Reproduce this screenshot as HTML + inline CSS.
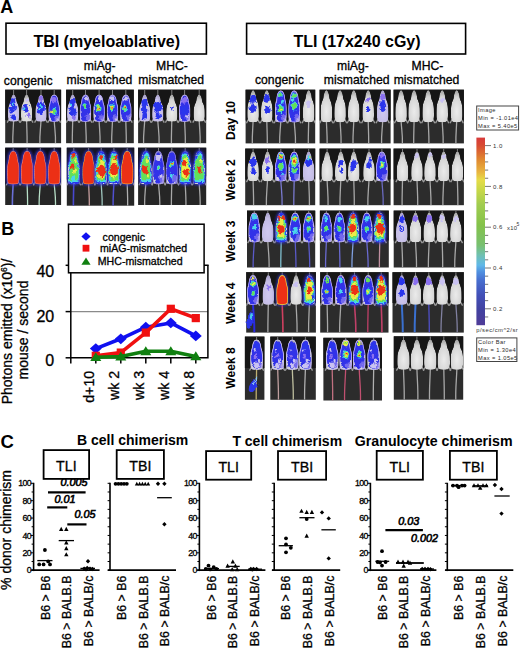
<!DOCTYPE html><html><head><meta charset="utf-8"><style>html,body{margin:0;padding:0;background:#fff;width:520px;height:649px;overflow:hidden}svg{display:block}text{font-family:"Liberation Sans",sans-serif}</style></head><body>
<svg width="520" height="649" viewBox="0 0 520 649">
<defs><filter id="bl1" x="-30%" y="-30%" width="160%" height="160%"><feGaussianBlur stdDeviation="0.7"/></filter><filter id="bl2" x="-50%" y="-50%" width="200%" height="200%"><feGaussianBlur stdDeviation="1.6"/></filter><radialGradient id="wg" cx="0.5" cy="0.66" r="0.62"><stop offset="0" stop-color="#ebebeb"/><stop offset="0.75" stop-color="#d5d5d5"/><stop offset="1" stop-color="#aaaaaa"/></radialGradient><filter id="ds0" x="-30%" y="-30%" width="160%" height="160%"><feTurbulence type="fractalNoise" baseFrequency="0.28" numOctaves="2" seed="3" result="n"/><feDisplacementMap in="SourceGraphic" in2="n" scale="4.5" xChannelSelector="R" yChannelSelector="G" result="d"/><feGaussianBlur in="d" stdDeviation="0.55"/></filter><filter id="ds1" x="-30%" y="-30%" width="160%" height="160%"><feTurbulence type="fractalNoise" baseFrequency="0.28" numOctaves="2" seed="10" result="n"/><feDisplacementMap in="SourceGraphic" in2="n" scale="4.5" xChannelSelector="R" yChannelSelector="G" result="d"/><feGaussianBlur in="d" stdDeviation="0.55"/></filter><filter id="ds2" x="-30%" y="-30%" width="160%" height="160%"><feTurbulence type="fractalNoise" baseFrequency="0.28" numOctaves="2" seed="17" result="n"/><feDisplacementMap in="SourceGraphic" in2="n" scale="4.5" xChannelSelector="R" yChannelSelector="G" result="d"/><feGaussianBlur in="d" stdDeviation="0.55"/></filter><filter id="ds3" x="-30%" y="-30%" width="160%" height="160%"><feTurbulence type="fractalNoise" baseFrequency="0.28" numOctaves="2" seed="24" result="n"/><feDisplacementMap in="SourceGraphic" in2="n" scale="4.5" xChannelSelector="R" yChannelSelector="G" result="d"/><feGaussianBlur in="d" stdDeviation="0.55"/></filter><linearGradient id="cbar" x1="0" y1="1" x2="0" y2="0"><stop offset="0" stop-color="#503c98"/><stop offset="0.081" stop-color="#4242a0"/><stop offset="0.161" stop-color="#4250b8"/><stop offset="0.241" stop-color="#4870d0"/><stop offset="0.284" stop-color="#5090e0"/><stop offset="0.32" stop-color="#60b8e8"/><stop offset="0.374" stop-color="#70c0b0"/><stop offset="0.427" stop-color="#78c070"/><stop offset="0.534" stop-color="#84c24a"/><stop offset="0.64" stop-color="#a0cc50"/><stop offset="0.72" stop-color="#c8d848"/><stop offset="0.774" stop-color="#e6dc48"/><stop offset="0.817" stop-color="#e8b440"/><stop offset="0.88" stop-color="#e08a30"/><stop offset="0.96" stop-color="#d84a32"/><stop offset="1" stop-color="#d83a3a"/></linearGradient></defs>
<rect width="520" height="649" fill="#fff"/>
<text x="0.2" y="12.7" font-size="18" font-weight="bold" fill="#000">A</text>
<rect x="6" y="23.2" width="200.4" height="30.8" fill="none" stroke="#000" stroke-width="1.6"/>
<text x="33.4" y="46.7" font-size="16" font-weight="bold" fill="#000">TBI (myeloablative)</text>
<rect x="246.6" y="23.4" width="219" height="30.6" fill="none" stroke="#000" stroke-width="1.6"/>
<text x="293.4" y="46.7" font-size="16" font-weight="bold" fill="#000">TLI (17x240 cGy)</text>
<text x="3.8" y="84.6" font-size="12.2" stroke="#000" stroke-width="0.3" fill="#000">congenic</text>
<text x="83.8" y="70.4" font-size="12.2" stroke="#000" stroke-width="0.3" fill="#000">miAg-</text>
<text x="66.5" y="84.2" font-size="12.2" stroke="#000" stroke-width="0.3" fill="#000">mismatched</text>
<text x="156" y="69.8" font-size="12.2" stroke="#000" stroke-width="0.3" fill="#000">MHC-</text>
<text x="138.3" y="83.6" font-size="12.2" stroke="#000" stroke-width="0.3" fill="#000">mismatched</text>
<text x="255" y="84.2" font-size="12.2" stroke="#000" stroke-width="0.3" fill="#000">congenic</text>
<text x="337" y="70.4" font-size="12.2" stroke="#000" stroke-width="0.3" fill="#000">miAg-</text>
<text x="323.8" y="84.2" font-size="12.2" stroke="#000" stroke-width="0.3" fill="#000">mismatched</text>
<text x="411.5" y="70.4" font-size="12.2" stroke="#000" stroke-width="0.3" fill="#000">MHC-</text>
<text x="393.7" y="84.2" font-size="12.2" stroke="#000" stroke-width="0.3" fill="#000">mismatched</text>
<text x="234.9" y="120.4" font-size="12.1" font-weight="bold" text-anchor="middle" fill="#000" transform="rotate(-90 234.9 120.4)">Day 10</text>
<text x="234.9" y="179.9" font-size="12.1" font-weight="bold" text-anchor="middle" fill="#000" transform="rotate(-90 234.9 179.9)">Week 2</text>
<text x="234.9" y="241.3" font-size="12.1" font-weight="bold" text-anchor="middle" fill="#000" transform="rotate(-90 234.9 241.3)">Week 3</text>
<text x="234.9" y="303.2" font-size="12.1" font-weight="bold" text-anchor="middle" fill="#000" transform="rotate(-90 234.9 303.2)">Week 4</text>
<text x="234.9" y="368" font-size="12.1" font-weight="bold" text-anchor="middle" fill="#000" transform="rotate(-90 234.9 368)">Week 8</text>
<rect x="5.2" y="89.7" width="55.9" height="53.5" fill="#2c2c2c"/>
<rect x="5.2" y="89.7" width="55.9" height="30.3" fill="#171717" filter="url(#bl1)"/>
<svg x="5.2" y="89.7" width="55.9" height="53.5" viewBox="5.2 89.7 55.9 53.5" overflow="hidden">
<defs><path id="bk1" d="M1.01 95C1.49 95.27 1.64 96.02 1.9 96.59C2.17 97.16 2.42 97.83 2.58 98.44C2.73 99.06 2.73 99.68 2.86 100.3C2.98 100.92 3.06 101.49 3.3 102.16C3.55 102.82 4.01 103.48 4.31 104.28C4.61 105.07 4.9 106 5.1 106.92C5.29 107.85 5.4 108.38 5.49 109.84C5.57 111.3 5.62 114.26 5.6 115.67C5.58 117.08 5.52 117.57 5.38 118.32C5.24 119.07 5.14 119.64 4.76 120.17C4.38 120.7 4.39 121.28 3.08 121.5C1.77 121.72 -1.77 121.72 -3.08 121.5C-4.39 121.28 -4.38 120.7 -4.76 120.17C-5.14 119.64 -5.24 119.07 -5.38 118.32C-5.52 117.57 -5.58 117.08 -5.6 115.67C-5.62 114.26 -5.57 111.3 -5.49 109.84C-5.4 108.38 -5.29 107.85 -5.1 106.92C-4.9 106 -4.61 105.07 -4.31 104.28C-4.01 103.48 -3.55 102.82 -3.3 102.16C-3.06 101.49 -2.98 100.92 -2.86 100.3C-2.73 99.68 -2.73 99.06 -2.58 98.44C-2.42 97.83 -2.17 97.16 -1.9 96.59C-1.64 96.02 -1.49 95.27 -1.01 95C-0.52 94.73 0.52 94.73 1.01 95Z"/><clipPath id="ck1"><use href="#bk1"/></clipPath></defs>
<g transform="translate(13.6 0)">
<line x1="0" y1="89.7" x2="0" y2="96" stroke="#8a8a8a" stroke-width="0.9"/>
<path d="M0 120.5C-0.3 129.58 -1 134.12 -0.8 143.2" fill="none" stroke="#a8a8a8" stroke-width="1.3"/>
<line x1="-4.2" y1="118.85" x2="-6.44" y2="122.56" stroke="#9c9c9c" stroke-width="1.3"/>
<line x1="4.2" y1="118.85" x2="6.44" y2="122.56" stroke="#9c9c9c" stroke-width="1.3"/>
<g clip-path="url(#ck1)">
<use href="#bk1" fill="url(#wg)"/>
<use href="#bk1" fill="#b0a0f8" opacity="0.45"/>
<g filter="url(#ds1)">
<ellipse cx="-1.4" cy="102.42" rx="3" ry="4.05" fill="#2a34ec"/>
<ellipse cx="0.56" cy="106.92" rx="2.8" ry="3.78" fill="#2a34ec"/>
<ellipse cx="-1.68" cy="110.37" rx="2.4" ry="3.24" fill="#2a34ec"/>
<ellipse cx="0" cy="117.26" rx="2.2" ry="2.97" fill="#2a34ec"/>
<ellipse cx="-0.84" cy="104.28" rx="1" ry="1.35" fill="#48d4ec"/>
</g>
</g></g>
<g transform="translate(26.6 0)">
<line x1="0" y1="89.7" x2="0" y2="96" stroke="#8a8a8a" stroke-width="0.9"/>
<path d="M0 120.5C0.18 129.58 0.6 134.12 0.48 143.2" fill="none" stroke="#a8a8a8" stroke-width="1.3"/>
<line x1="-4.2" y1="118.85" x2="-6.44" y2="122.56" stroke="#9c9c9c" stroke-width="1.3"/>
<line x1="4.2" y1="118.85" x2="6.44" y2="122.56" stroke="#9c9c9c" stroke-width="1.3"/>
<g clip-path="url(#ck1)">
<use href="#bk1" fill="url(#wg)"/>
<g filter="url(#ds2)">
<ellipse cx="-0.84" cy="108.25" rx="3.2" ry="4.32" fill="#2a34ec"/>
<ellipse cx="1.96" cy="115.14" rx="2" ry="2.7" fill="#8a70f0"/>
<ellipse cx="-2.8" cy="109.58" rx="0.9" ry="1.22" fill="#48d4ec"/>
<ellipse cx="0.56" cy="100.3" rx="1.6" ry="2.16" fill="#c9c2f2"/>
</g>
</g></g>
<g transform="translate(41 0)">
<line x1="0" y1="89.7" x2="0" y2="96" stroke="#8a8a8a" stroke-width="0.9"/>
<path d="M0 120.5C-0.42 129.58 -1.4 134.12 -1.12 143.2" fill="none" stroke="#a8a8a8" stroke-width="1.3"/>
<line x1="-4.2" y1="118.85" x2="-6.44" y2="122.56" stroke="#9c9c9c" stroke-width="1.3"/>
<line x1="4.2" y1="118.85" x2="6.44" y2="122.56" stroke="#9c9c9c" stroke-width="1.3"/>
<g clip-path="url(#ck1)">
<use href="#bk1" fill="url(#wg)"/>
<use href="#bk1" fill="#b0a0f8" opacity="0.45"/>
<g filter="url(#ds3)">
<ellipse cx="0" cy="108.25" rx="3.9" ry="6.63" fill="#2a34ec"/>
<ellipse cx="0" cy="98.97" rx="2" ry="2.7" fill="#8a70f0"/>
<ellipse cx="0.56" cy="106.13" rx="1.1" ry="1.49" fill="#48d4ec"/>
<ellipse cx="-1.68" cy="108.25" rx="0.9" ry="1.22" fill="#48d4ec"/>
</g>
</g></g>
<defs><path id="bk2" d="M1.4 95C2.1 95.27 2.42 95.97 2.8 96.59C3.18 97.21 3.49 98 3.7 98.71C3.9 99.42 3.9 100.12 4.03 100.83C4.16 101.54 4.28 102.16 4.48 102.95C4.68 103.75 5.02 104.63 5.21 105.6C5.39 106.57 5.53 107.1 5.6 108.78C5.67 110.46 5.64 114.08 5.6 115.67C5.56 117.26 5.47 117.57 5.38 118.32C5.28 119.07 5.38 119.64 5.04 120.17C4.7 120.7 4.76 121.28 3.36 121.5C1.96 121.72 -1.96 121.72 -3.36 121.5C-4.76 121.28 -4.7 120.7 -5.04 120.17C-5.38 119.64 -5.28 119.07 -5.38 118.32C-5.47 117.57 -5.56 117.26 -5.6 115.67C-5.64 114.08 -5.67 110.46 -5.6 108.78C-5.53 107.1 -5.39 106.57 -5.21 105.6C-5.02 104.63 -4.68 103.75 -4.48 102.95C-4.28 102.16 -4.16 101.54 -4.03 100.83C-3.9 100.12 -3.9 99.42 -3.7 98.71C-3.49 98 -3.18 97.21 -2.8 96.59C-2.42 95.97 -2.1 95.27 -1.4 95C-0.7 94.73 0.7 94.73 1.4 95Z"/><clipPath id="ck2"><use href="#bk2"/></clipPath></defs>
<g transform="translate(54.2 0)">
<line x1="0" y1="89.7" x2="0" y2="96" stroke="#8a8a8a" stroke-width="0.9"/>
<path d="M0 120.5C0.48 129.58 1.6 134.12 1.28 143.2" fill="none" stroke="#a8a8a8" stroke-width="1.3"/>
<line x1="-4.2" y1="118.85" x2="-6.44" y2="122.56" stroke="#9c9c9c" stroke-width="1.3"/>
<line x1="4.2" y1="118.85" x2="6.44" y2="122.56" stroke="#9c9c9c" stroke-width="1.3"/>
<g clip-path="url(#ck2)">
<use href="#bk2" fill="url(#wg)"/>
<g filter="url(#ds0)"><ellipse cx="0" cy="108.78" rx="5.32" ry="13.25" fill="#3030e8"/><ellipse cx="2.8" cy="117.53" rx="2.8" ry="3.18" fill="#9080f0" opacity="0.7"/></g>
<g filter="url(#ds0)">
<ellipse cx="0.28" cy="111.43" rx="2.8" ry="4.48" fill="#2a34ec"/>
<ellipse cx="0.28" cy="111.43" rx="2.27" ry="3.63" fill="#48d4ec"/>
<ellipse cx="0.28" cy="111.43" rx="1.74" ry="2.78" fill="#62e05a"/>
<ellipse cx="-3.08" cy="111.96" rx="1" ry="1.35" fill="#ecec48"/>
<ellipse cx="0" cy="100.3" rx="2.4" ry="3.24" fill="#8a70f0"/>
</g>
<use href="#bk2" fill="none" stroke="#b8a8f8" stroke-width="1.6" filter="url(#bl1)"/>
</g></g>
</svg>
<rect x="66.1" y="89.7" width="67.7" height="53.5" fill="#2c2c2c"/>
<rect x="66.1" y="89.7" width="67.7" height="30.3" fill="#171717" filter="url(#bl1)"/>
<svg x="66.1" y="89.7" width="67.7" height="53.5" viewBox="66.1 89.7 67.7 53.5" overflow="hidden">
<g transform="translate(72.7 0)">
<line x1="0" y1="89.7" x2="0" y2="96" stroke="#8a8a8a" stroke-width="0.9"/>
<path d="M0 120.5C-0.15 129.58 -0.5 134.12 -0.4 143.2" fill="none" stroke="#a8a8a8" stroke-width="1.3"/>
<line x1="-4.2" y1="118.85" x2="-6.44" y2="122.56" stroke="#9c9c9c" stroke-width="1.3"/>
<line x1="4.2" y1="118.85" x2="6.44" y2="122.56" stroke="#9c9c9c" stroke-width="1.3"/>
<g clip-path="url(#ck1)">
<use href="#bk1" fill="url(#wg)"/>
<use href="#bk1" fill="#b0a0f8" opacity="0.45"/>
<g filter="url(#ds1)">
<ellipse cx="0" cy="102.95" rx="3" ry="4.05" fill="#2a34ec"/>
<ellipse cx="0" cy="111.43" rx="3.6" ry="4.86" fill="#2a34ec"/>
<ellipse cx="-1.96" cy="105.07" rx="1.2" ry="1.62" fill="#48d4ec"/>
<ellipse cx="1.12" cy="117.53" rx="2" ry="2.7" fill="#8a70f0"/>
</g>
</g></g>
<g transform="translate(85.5 0)">
<line x1="0" y1="89.7" x2="0" y2="96" stroke="#8a8a8a" stroke-width="0.9"/>
<path d="M0 120.5C0.27 129.58 0.9 134.12 0.72 143.2" fill="none" stroke="#a8a8a8" stroke-width="1.3"/>
<line x1="-4.2" y1="118.85" x2="-6.44" y2="122.56" stroke="#9c9c9c" stroke-width="1.3"/>
<line x1="4.2" y1="118.85" x2="6.44" y2="122.56" stroke="#9c9c9c" stroke-width="1.3"/>
<g clip-path="url(#ck2)">
<use href="#bk2" fill="url(#wg)"/>
<g filter="url(#ds2)"><ellipse cx="0" cy="108.78" rx="5.32" ry="13.25" fill="#3030e8"/><ellipse cx="2.8" cy="117.53" rx="2.8" ry="3.18" fill="#9080f0" opacity="0.7"/></g>
<g filter="url(#ds2)">
<ellipse cx="-0.84" cy="106.13" rx="2.6" ry="3.51" fill="#2a34ec"/>
<ellipse cx="-0.84" cy="106.13" rx="2.11" ry="2.84" fill="#48d4ec"/>
<ellipse cx="-0.84" cy="106.13" rx="1.61" ry="2.18" fill="#62e05a"/>
<ellipse cx="1.12" cy="98.97" rx="2" ry="2.7" fill="#c9c2f2"/>
</g>
<use href="#bk2" fill="none" stroke="#b8a8f8" stroke-width="1.6" filter="url(#bl1)"/>
</g></g>
<g transform="translate(99.1 0)">
<line x1="0" y1="89.7" x2="0" y2="96" stroke="#8a8a8a" stroke-width="0.9"/>
<path d="M0 120.5C0.36 129.58 1.2 134.12 0.96 143.2" fill="none" stroke="#a8a8a8" stroke-width="1.3"/>
<line x1="-4.2" y1="118.85" x2="-6.44" y2="122.56" stroke="#9c9c9c" stroke-width="1.3"/>
<line x1="4.2" y1="118.85" x2="6.44" y2="122.56" stroke="#9c9c9c" stroke-width="1.3"/>
<g clip-path="url(#ck2)">
<use href="#bk2" fill="url(#wg)"/>
<g filter="url(#ds3)"><ellipse cx="0" cy="108.78" rx="5.32" ry="13.25" fill="#3030e8"/><ellipse cx="2.8" cy="117.53" rx="2.8" ry="3.18" fill="#9080f0" opacity="0.7"/></g>
<g filter="url(#ds3)">
<ellipse cx="-0.56" cy="108.25" rx="3.6" ry="4.86" fill="#2a34ec"/>
<ellipse cx="-0.56" cy="108.25" rx="2.92" ry="3.94" fill="#48d4ec"/>
<ellipse cx="-0.56" cy="108.25" rx="2.23" ry="3.01" fill="#62e05a"/>
<ellipse cx="-0.56" cy="108.25" rx="1.55" ry="2.09" fill="#ecec48"/>
<ellipse cx="-0.56" cy="108.25" rx="0.86" ry="1.17" fill="#ec3016"/>
<ellipse cx="1.12" cy="98.97" rx="2" ry="2.7" fill="#c9c2f2"/>
</g>
<use href="#bk2" fill="none" stroke="#b8a8f8" stroke-width="1.6" filter="url(#bl1)"/>
</g></g>
<g transform="translate(112.5 0)">
<line x1="0" y1="89.7" x2="0" y2="96" stroke="#8a8a8a" stroke-width="0.9"/>
<path d="M0 120.5C-0.3 129.58 -1 134.12 -0.8 143.2" fill="none" stroke="#a8a8a8" stroke-width="1.3"/>
<line x1="-4.2" y1="118.85" x2="-6.44" y2="122.56" stroke="#9c9c9c" stroke-width="1.3"/>
<line x1="4.2" y1="118.85" x2="6.44" y2="122.56" stroke="#9c9c9c" stroke-width="1.3"/>
<g clip-path="url(#ck2)">
<use href="#bk2" fill="url(#wg)"/>
<g filter="url(#ds0)"><ellipse cx="0" cy="108.78" rx="5.32" ry="13.25" fill="#3030e8"/><ellipse cx="2.8" cy="117.53" rx="2.8" ry="3.18" fill="#9080f0" opacity="0.7"/></g>
<g filter="url(#ds0)">
<ellipse cx="-0.56" cy="107.72" rx="3.2" ry="4.32" fill="#2a34ec"/>
<ellipse cx="-0.56" cy="107.72" rx="2.59" ry="3.5" fill="#48d4ec"/>
<ellipse cx="-0.56" cy="107.72" rx="1.98" ry="2.68" fill="#62e05a"/>
<ellipse cx="-0.56" cy="107.72" rx="1.38" ry="1.86" fill="#ecec48"/>
<ellipse cx="-0.56" cy="107.72" rx="0.77" ry="1.04" fill="#ec3016"/>
<ellipse cx="0" cy="98.97" rx="2" ry="2.7" fill="#c9c2f2"/>
</g>
<use href="#bk2" fill="none" stroke="#b8a8f8" stroke-width="1.6" filter="url(#bl1)"/>
</g></g>
<g transform="translate(125.8 0)">
<line x1="0" y1="89.7" x2="0" y2="96" stroke="#8a8a8a" stroke-width="0.9"/>
<path d="M0 120.5C0.18 129.58 0.6 134.12 0.48 143.2" fill="none" stroke="#a8a8a8" stroke-width="1.3"/>
<line x1="-4.2" y1="118.85" x2="-6.44" y2="122.56" stroke="#9c9c9c" stroke-width="1.3"/>
<line x1="4.2" y1="118.85" x2="6.44" y2="122.56" stroke="#9c9c9c" stroke-width="1.3"/>
<g clip-path="url(#ck2)">
<use href="#bk2" fill="url(#wg)"/>
<g filter="url(#ds1)"><ellipse cx="0" cy="108.78" rx="5.32" ry="13.25" fill="#3030e8"/><ellipse cx="2.8" cy="117.53" rx="2.8" ry="3.18" fill="#9080f0" opacity="0.7"/></g>
<g filter="url(#ds1)">
<ellipse cx="-0.56" cy="107.72" rx="3.4" ry="4.59" fill="#2a34ec"/>
<ellipse cx="-0.56" cy="107.72" rx="2.75" ry="3.72" fill="#48d4ec"/>
<ellipse cx="-0.56" cy="107.72" rx="2.11" ry="2.85" fill="#62e05a"/>
<ellipse cx="-0.56" cy="107.72" rx="1.46" ry="1.97" fill="#ecec48"/>
<ellipse cx="-0.56" cy="107.72" rx="0.82" ry="1.1" fill="#ec3016"/>
<ellipse cx="0" cy="98.97" rx="2" ry="2.7" fill="#c9c2f2"/>
</g>
<use href="#bk2" fill="none" stroke="#b8a8f8" stroke-width="1.6" filter="url(#bl1)"/>
</g></g>
</svg>
<rect x="138.1" y="89.7" width="68.1" height="53.5" fill="#2c2c2c"/>
<rect x="138.1" y="89.7" width="68.1" height="30.3" fill="#171717" filter="url(#bl1)"/>
<svg x="138.1" y="89.7" width="68.1" height="53.5" viewBox="138.1 89.7 68.1 53.5" overflow="hidden">
<g transform="translate(144.7 0)">
<line x1="0" y1="89.7" x2="0" y2="96" stroke="#8a8a8a" stroke-width="0.9"/>
<path d="M0 120.5C-0.42 129.58 -1.4 134.12 -1.12 143.2" fill="none" stroke="#a8a8a8" stroke-width="1.3"/>
<line x1="-4.2" y1="118.85" x2="-6.44" y2="122.56" stroke="#9c9c9c" stroke-width="1.3"/>
<line x1="4.2" y1="118.85" x2="6.44" y2="122.56" stroke="#9c9c9c" stroke-width="1.3"/>
<g clip-path="url(#ck1)">
<use href="#bk1" fill="url(#wg)"/>
<use href="#bk1" fill="#b0a0f8" opacity="0.45"/>
<g filter="url(#ds2)">
<ellipse cx="0" cy="102.95" rx="3" ry="4.05" fill="#2a34ec"/>
<ellipse cx="-0.56" cy="109.58" rx="3.2" ry="4.32" fill="#2a34ec"/>
<ellipse cx="0" cy="116.2" rx="2.4" ry="3.24" fill="#2a34ec"/>
</g>
</g></g>
<g transform="translate(157.8 0)">
<line x1="0" y1="89.7" x2="0" y2="96" stroke="#8a8a8a" stroke-width="0.9"/>
<path d="M0 120.5C0.48 129.58 1.6 134.12 1.28 143.2" fill="none" stroke="#a8a8a8" stroke-width="1.3"/>
<line x1="-4.2" y1="118.85" x2="-6.44" y2="122.56" stroke="#9c9c9c" stroke-width="1.3"/>
<line x1="4.2" y1="118.85" x2="6.44" y2="122.56" stroke="#9c9c9c" stroke-width="1.3"/>
<g clip-path="url(#ck1)">
<use href="#bk1" fill="url(#wg)"/>
<use href="#bk1" fill="#b0a0f8" opacity="0.45"/>
<g filter="url(#ds3)">
<ellipse cx="0" cy="106.92" rx="4.2" ry="5.67" fill="#2a34ec"/>
<ellipse cx="0.56" cy="115.67" rx="2.6" ry="3.51" fill="#2a34ec"/>
<ellipse cx="-1.12" cy="100.3" rx="1.6" ry="2.16" fill="#c9c2f2"/>
</g>
</g></g>
<g transform="translate(171.8 0)">
<line x1="0" y1="89.7" x2="0" y2="96" stroke="#8a8a8a" stroke-width="0.9"/>
<path d="M0 120.5C-0.15 129.58 -0.5 134.12 -0.4 143.2" fill="none" stroke="#a8a8a8" stroke-width="1.3"/>
<line x1="-4.2" y1="118.85" x2="-6.44" y2="122.56" stroke="#9c9c9c" stroke-width="1.3"/>
<line x1="4.2" y1="118.85" x2="6.44" y2="122.56" stroke="#9c9c9c" stroke-width="1.3"/>
<g clip-path="url(#ck1)">
<use href="#bk1" fill="url(#wg)"/>
<g filter="url(#ds0)">
<ellipse cx="0.56" cy="108.78" rx="1.4" ry="1.89" fill="#2a34ec"/>
</g>
</g></g>
<g transform="translate(184.6 0)">
<line x1="0" y1="89.7" x2="0" y2="96" stroke="#8a8a8a" stroke-width="0.9"/>
<path d="M0 120.5C0.27 129.58 0.9 134.12 0.72 143.2" fill="none" stroke="#a8a8a8" stroke-width="1.3"/>
<line x1="-4.2" y1="118.85" x2="-6.44" y2="122.56" stroke="#9c9c9c" stroke-width="1.3"/>
<line x1="4.2" y1="118.85" x2="6.44" y2="122.56" stroke="#9c9c9c" stroke-width="1.3"/>
<g clip-path="url(#ck2)">
<use href="#bk2" fill="url(#wg)"/>
<g filter="url(#ds1)"><ellipse cx="0" cy="108.78" rx="5.32" ry="13.25" fill="#3030e8"/><ellipse cx="2.8" cy="117.53" rx="2.8" ry="3.18" fill="#9080f0" opacity="0.7"/></g>
<g filter="url(#ds1)">
<ellipse cx="0" cy="100.3" rx="2.6" ry="3.51" fill="#8a70f0"/>
<ellipse cx="0" cy="109.58" rx="3.6" ry="4.86" fill="#2a34ec"/>
<ellipse cx="2.24" cy="116.2" rx="1.5" ry="2.03" fill="#c9c2f2"/>
</g>
<use href="#bk2" fill="none" stroke="#b8a8f8" stroke-width="1.6" filter="url(#bl1)"/>
</g></g>
<g transform="translate(199.2 0)">
<line x1="0" y1="89.7" x2="0" y2="96" stroke="#8a8a8a" stroke-width="0.9"/>
<path d="M0 120.5C0.36 129.58 1.2 134.12 0.96 143.2" fill="none" stroke="#a8a8a8" stroke-width="1.3"/>
<line x1="-4.2" y1="118.85" x2="-6.44" y2="122.56" stroke="#9c9c9c" stroke-width="1.3"/>
<line x1="4.2" y1="118.85" x2="6.44" y2="122.56" stroke="#9c9c9c" stroke-width="1.3"/>
<g clip-path="url(#ck1)">
<use href="#bk1" fill="url(#wg)"/>
<g filter="url(#ds2)">
</g>
</g></g>
</svg>
<rect x="5.2" y="147.7" width="55.9" height="57.3" fill="#262626"/>
<rect x="5.2" y="147.7" width="55.9" height="36.67" fill="#0e0c1c" filter="url(#bl1)"/>
<svg x="5.2" y="147.7" width="55.9" height="57.3" viewBox="5.2 147.7 55.9 57.3" overflow="hidden">
<defs><path id="bk3" d="M1.5 151.5C2.25 151.82 2.59 152.69 3 153.45C3.41 154.21 3.74 155.18 3.96 156.05C4.18 156.92 4.18 157.78 4.32 158.65C4.46 159.52 4.59 160.28 4.8 161.25C5.01 162.22 5.38 163.31 5.58 164.5C5.78 165.69 5.93 166.34 6 168.4C6.07 170.46 6.04 174.9 6 176.85C5.96 178.8 5.86 179.18 5.76 180.1C5.66 181.02 5.76 181.72 5.4 182.38C5.04 183.03 5.1 183.73 3.6 184C2.1 184.27 -2.1 184.27 -3.6 184C-5.1 183.73 -5.04 183.03 -5.4 182.38C-5.76 181.72 -5.66 181.02 -5.76 180.1C-5.86 179.18 -5.96 178.8 -6 176.85C-6.04 174.9 -6.07 170.46 -6 168.4C-5.93 166.34 -5.78 165.69 -5.58 164.5C-5.38 163.31 -5.01 162.22 -4.8 161.25C-4.59 160.28 -4.46 159.52 -4.32 158.65C-4.18 157.78 -4.18 156.92 -3.96 156.05C-3.74 155.18 -3.41 154.21 -3 153.45C-2.59 152.69 -2.25 151.82 -1.5 151.5C-0.75 151.18 0.75 151.18 1.5 151.5Z"/><clipPath id="ck3"><use href="#bk3"/></clipPath></defs>
<g transform="translate(13.2 0)">
<line x1="0" y1="147.7" x2="0" y2="152.5" stroke="#8a8a8a" stroke-width="0.9"/>
<path d="M0 183C-0.3 191.8 -1 196.2 -0.8 205" fill="none" stroke="#6a70d8" stroke-width="1.6"/>
<line x1="-4.5" y1="180.75" x2="-6.9" y2="185.3" stroke="#9c9c9c" stroke-width="1.3"/>
<line x1="4.5" y1="180.75" x2="6.9" y2="185.3" stroke="#9c9c9c" stroke-width="1.3"/>
<use href="#bk3" fill="#4038d8" stroke="#4038d8" stroke-width="2.4" filter="url(#bl2)" opacity="0.9"/>
<g clip-path="url(#ck3)">
<use href="#bk3" fill="#ec3016"/>
<g filter="url(#ds3)">
</g>
<use href="#bk3" fill="none" stroke="#f0a090" stroke-width="0.9" filter="url(#bl1)"/>
</g></g>
<g transform="translate(27.1 0)">
<line x1="0" y1="147.7" x2="0" y2="152.5" stroke="#8a8a8a" stroke-width="0.9"/>
<path d="M0 183C0.18 191.8 0.6 196.2 0.48 205" fill="none" stroke="#b8e0c8" stroke-width="1.3"/>
<line x1="-4.5" y1="180.75" x2="-6.9" y2="185.3" stroke="#9c9c9c" stroke-width="1.3"/>
<line x1="4.5" y1="180.75" x2="6.9" y2="185.3" stroke="#9c9c9c" stroke-width="1.3"/>
<use href="#bk3" fill="#4038d8" stroke="#4038d8" stroke-width="2.4" filter="url(#bl2)" opacity="0.9"/>
<g clip-path="url(#ck3)">
<use href="#bk3" fill="#ec3016"/>
<g filter="url(#ds0)">
</g>
<use href="#bk3" fill="none" stroke="#f0a090" stroke-width="0.9" filter="url(#bl1)"/>
</g></g>
<g transform="translate(40.3 0)">
<line x1="0" y1="147.7" x2="0" y2="152.5" stroke="#8a8a8a" stroke-width="0.9"/>
<path d="M0 183C-0.42 191.8 -1.4 196.2 -1.12 205" fill="none" stroke="#b8e0c8" stroke-width="1.3"/>
<line x1="-4.5" y1="180.75" x2="-6.9" y2="185.3" stroke="#9c9c9c" stroke-width="1.3"/>
<line x1="4.5" y1="180.75" x2="6.9" y2="185.3" stroke="#9c9c9c" stroke-width="1.3"/>
<use href="#bk3" fill="#4038d8" stroke="#4038d8" stroke-width="2.4" filter="url(#bl2)" opacity="0.9"/>
<g clip-path="url(#ck3)">
<use href="#bk3" fill="#ec3016"/>
<g filter="url(#ds1)">
</g>
<use href="#bk3" fill="none" stroke="#f0a090" stroke-width="0.9" filter="url(#bl1)"/>
</g></g>
<g transform="translate(54.2 0)">
<line x1="0" y1="147.7" x2="0" y2="152.5" stroke="#8a8a8a" stroke-width="0.9"/>
<path d="M0 183C0.48 191.8 1.6 196.2 1.28 205" fill="none" stroke="#b8e0c8" stroke-width="1.3"/>
<line x1="-4.5" y1="180.75" x2="-6.9" y2="185.3" stroke="#9c9c9c" stroke-width="1.3"/>
<line x1="4.5" y1="180.75" x2="6.9" y2="185.3" stroke="#9c9c9c" stroke-width="1.3"/>
<use href="#bk3" fill="#4038d8" stroke="#4038d8" stroke-width="2.4" filter="url(#bl2)" opacity="0.9"/>
<g clip-path="url(#ck3)">
<use href="#bk3" fill="#ec3016"/>
<g filter="url(#ds2)">
</g>
<use href="#bk3" fill="none" stroke="#f0a090" stroke-width="0.9" filter="url(#bl1)"/>
</g></g>
</svg>
<rect x="66.8" y="147.7" width="67.4" height="58" fill="#262626"/>
<rect x="66.8" y="147.7" width="67.4" height="31.9" fill="#121228" filter="url(#bl1)"/>
<svg x="66.8" y="147.7" width="67.4" height="58" viewBox="66.8 147.7 67.4 58" overflow="hidden">
<g transform="translate(73.8 0)">
<line x1="0" y1="147.7" x2="0" y2="152.5" stroke="#8a8a8a" stroke-width="0.9"/>
<path d="M0 183C-0.15 192.08 -0.5 196.62 -0.4 205.7" fill="none" stroke="#4848d0" stroke-width="1.6"/>
<line x1="-4.5" y1="180.75" x2="-6.9" y2="185.3" stroke="#9c9c9c" stroke-width="1.3"/>
<line x1="4.5" y1="180.75" x2="6.9" y2="185.3" stroke="#9c9c9c" stroke-width="1.3"/>
<use href="#bk3" fill="#3030e0" stroke="#3030e0" stroke-width="1.6" filter="url(#bl2)" opacity="0.9"/>
<g clip-path="url(#ck3)">
<use href="#bk3" fill="url(#wg)"/>
<g filter="url(#ds3)"><ellipse cx="0" cy="168.4" rx="5.7" ry="16.25" fill="#3030e8"/><ellipse cx="3" cy="179.12" rx="3" ry="3.9" fill="#9080f0" opacity="0.7"/></g>
<g filter="url(#ds3)">
<use href="#bk3" fill="#2a34ec" transform="translate(0 169.38) scale(1) translate(0 -169.38)"/>
<use href="#bk3" fill="#48d4ec" transform="translate(0 169.38) scale(0.87) translate(0 -169.38)"/>
<use href="#bk3" fill="#62e05a" transform="translate(0 169.38) scale(0.74) translate(0 -169.38)"/>
<ellipse cx="0" cy="155.4" rx="1.8" ry="2.43" fill="#ec3016"/>
<ellipse cx="-1.2" cy="166.12" rx="1.9" ry="2.56" fill="#ec3016"/>
<ellipse cx="1.5" cy="161.25" rx="1.4" ry="1.89" fill="#ecec48"/>
<ellipse cx="0.6" cy="171.65" rx="1.6" ry="2.16" fill="#ecec48"/>
<ellipse cx="0" cy="178.15" rx="2.2" ry="2.97" fill="#48d4ec"/>
</g>
</g></g>
<g transform="translate(88.6 0)">
<line x1="0" y1="147.7" x2="0" y2="152.5" stroke="#8a8a8a" stroke-width="0.9"/>
<path d="M0 183C0.27 192.08 0.9 196.62 0.72 205.7" fill="none" stroke="#c8a0a0" stroke-width="1.3"/>
<line x1="-4.5" y1="180.75" x2="-6.9" y2="185.3" stroke="#9c9c9c" stroke-width="1.3"/>
<line x1="4.5" y1="180.75" x2="6.9" y2="185.3" stroke="#9c9c9c" stroke-width="1.3"/>
<use href="#bk3" fill="#3030e0" stroke="#3030e0" stroke-width="2" filter="url(#bl2)" opacity="0.9"/>
<g clip-path="url(#ck3)">
<use href="#bk3" fill="#ec3016"/>
<g filter="url(#ds0)">
</g>
<use href="#bk3" fill="none" stroke="#f0d040" stroke-width="0.8" filter="url(#bl1)"/>
</g></g>
<g transform="translate(101.2 0)">
<line x1="0" y1="147.7" x2="0" y2="152.5" stroke="#8a8a8a" stroke-width="0.9"/>
<path d="M0 183C0.36 192.08 1.2 196.62 0.96 205.7" fill="none" stroke="#a0c8c0" stroke-width="1.3"/>
<line x1="-4.5" y1="180.75" x2="-6.9" y2="185.3" stroke="#9c9c9c" stroke-width="1.3"/>
<line x1="4.5" y1="180.75" x2="6.9" y2="185.3" stroke="#9c9c9c" stroke-width="1.3"/>
<use href="#bk3" fill="#3030e0" stroke="#3030e0" stroke-width="1.6" filter="url(#bl2)" opacity="0.9"/>
<g clip-path="url(#ck3)">
<use href="#bk3" fill="url(#wg)"/>
<g filter="url(#ds1)"><ellipse cx="0" cy="168.4" rx="5.7" ry="16.25" fill="#3030e8"/><ellipse cx="3" cy="179.12" rx="3" ry="3.9" fill="#9080f0" opacity="0.7"/></g>
<g filter="url(#ds1)">
<use href="#bk3" fill="#2a34ec" transform="translate(0 169.38) scale(1) translate(0 -169.38)"/>
<use href="#bk3" fill="#48d4ec" transform="translate(0 169.38) scale(0.87) translate(0 -169.38)"/>
<use href="#bk3" fill="#62e05a" transform="translate(0 169.38) scale(0.74) translate(0 -169.38)"/>
<use href="#bk3" fill="#ecec48" transform="translate(0 169.38) scale(0.61) translate(0 -169.38)"/>
<ellipse cx="0" cy="171" rx="4.2" ry="6.3" fill="#ec3016"/>
<ellipse cx="0" cy="157.35" rx="1.8" ry="2.43" fill="#ec3016"/>
<ellipse cx="-1.8" cy="161.9" rx="1.4" ry="1.89" fill="#62e05a"/>
</g>
</g></g>
<g transform="translate(113.9 0)">
<line x1="0" y1="147.7" x2="0" y2="152.5" stroke="#8a8a8a" stroke-width="0.9"/>
<path d="M0 183C-0.3 192.08 -1 196.62 -0.8 205.7" fill="none" stroke="#5050d0" stroke-width="1.5"/>
<line x1="-4.5" y1="180.75" x2="-6.9" y2="185.3" stroke="#9c9c9c" stroke-width="1.3"/>
<line x1="4.5" y1="180.75" x2="6.9" y2="185.3" stroke="#9c9c9c" stroke-width="1.3"/>
<use href="#bk3" fill="#3030e0" stroke="#3030e0" stroke-width="1.6" filter="url(#bl2)" opacity="0.9"/>
<g clip-path="url(#ck3)">
<use href="#bk3" fill="url(#wg)"/>
<g filter="url(#ds2)"><ellipse cx="0" cy="168.4" rx="5.7" ry="16.25" fill="#3030e8"/><ellipse cx="3" cy="179.12" rx="3" ry="3.9" fill="#9080f0" opacity="0.7"/></g>
<g filter="url(#ds2)">
<use href="#bk3" fill="#2a34ec" transform="translate(0 169.38) scale(1) translate(0 -169.38)"/>
<use href="#bk3" fill="#48d4ec" transform="translate(0 169.38) scale(0.87) translate(0 -169.38)"/>
<use href="#bk3" fill="#62e05a" transform="translate(0 169.38) scale(0.74) translate(0 -169.38)"/>
<use href="#bk3" fill="#ecec48" transform="translate(0 169.38) scale(0.61) translate(0 -169.38)"/>
<ellipse cx="0" cy="169.38" rx="4.2" ry="6.3" fill="#ec3016"/>
<ellipse cx="1.8" cy="158" rx="1.8" ry="2.43" fill="#ec3016"/>
<ellipse cx="-1.8" cy="158" rx="1.5" ry="2.03" fill="#62e05a"/>
</g>
</g></g>
<g transform="translate(127.2 0)">
<line x1="0" y1="147.7" x2="0" y2="152.5" stroke="#8a8a8a" stroke-width="0.9"/>
<path d="M0 183C0.18 192.08 0.6 196.62 0.48 205.7" fill="none" stroke="#b0b0b0" stroke-width="1.3"/>
<line x1="-4.5" y1="180.75" x2="-6.9" y2="185.3" stroke="#9c9c9c" stroke-width="1.3"/>
<line x1="4.5" y1="180.75" x2="6.9" y2="185.3" stroke="#9c9c9c" stroke-width="1.3"/>
<use href="#bk3" fill="#3030e0" stroke="#3030e0" stroke-width="2" filter="url(#bl2)" opacity="0.9"/>
<g clip-path="url(#ck3)">
<use href="#bk3" fill="#ec3016"/>
<g filter="url(#ds3)">
</g>
<use href="#bk3" fill="none" stroke="#f0e040" stroke-width="1" filter="url(#bl1)"/>
</g></g>
</svg>
<rect x="138.1" y="147.7" width="68.1" height="57.3" fill="#262626"/>
<rect x="138.1" y="147.7" width="68.1" height="28.65" fill="#141422" filter="url(#bl1)"/>
<svg x="138.1" y="147.7" width="68.1" height="57.3" viewBox="138.1 147.7 68.1 57.3" overflow="hidden">
<g transform="translate(145.8 0)">
<line x1="0" y1="147.7" x2="0" y2="152.5" stroke="#8a8a8a" stroke-width="0.9"/>
<path d="M0 183C-0.42 191.8 -1.4 196.2 -1.12 205" fill="none" stroke="#a8a8a8" stroke-width="1.3"/>
<line x1="-4.5" y1="180.75" x2="-6.9" y2="185.3" stroke="#9c9c9c" stroke-width="1.3"/>
<line x1="4.5" y1="180.75" x2="6.9" y2="185.3" stroke="#9c9c9c" stroke-width="1.3"/>
<use href="#bk3" fill="#3030e0" stroke="#3030e0" stroke-width="1.6" filter="url(#bl2)" opacity="0.9"/>
<g clip-path="url(#ck3)">
<use href="#bk3" fill="url(#wg)"/>
<g filter="url(#ds0)"><ellipse cx="0" cy="168.4" rx="5.7" ry="16.25" fill="#3030e8"/><ellipse cx="3" cy="179.12" rx="3" ry="3.9" fill="#9080f0" opacity="0.7"/></g>
<g filter="url(#ds0)">
<use href="#bk3" fill="#2a34ec" transform="translate(0 169.38) scale(1) translate(0 -169.38)"/>
<use href="#bk3" fill="#48d4ec" transform="translate(0 169.38) scale(0.87) translate(0 -169.38)"/>
<use href="#bk3" fill="#62e05a" transform="translate(0 169.38) scale(0.74) translate(0 -169.38)"/>
<ellipse cx="-0.9" cy="169.38" rx="3.2" ry="4.32" fill="#ec3016"/>
<ellipse cx="1.2" cy="161.25" rx="1.5" ry="2.03" fill="#ecec48"/>
<ellipse cx="1.8" cy="175.88" rx="1.4" ry="1.89" fill="#ecec48"/>
</g>
</g></g>
<g transform="translate(158.5 0)">
<line x1="0" y1="147.7" x2="0" y2="152.5" stroke="#8a8a8a" stroke-width="0.9"/>
<path d="M0 183C0.48 191.8 1.6 196.2 1.28 205" fill="none" stroke="#a8a8a8" stroke-width="1.3"/>
<line x1="-4.5" y1="180.75" x2="-6.9" y2="185.3" stroke="#9c9c9c" stroke-width="1.3"/>
<line x1="4.5" y1="180.75" x2="6.9" y2="185.3" stroke="#9c9c9c" stroke-width="1.3"/>
<g clip-path="url(#ck3)">
<use href="#bk3" fill="url(#wg)"/>
<g filter="url(#ds1)"><ellipse cx="0" cy="168.4" rx="5.7" ry="16.25" fill="#3030e8"/><ellipse cx="3" cy="179.12" rx="3" ry="3.9" fill="#9080f0" opacity="0.7"/></g>
<g filter="url(#ds1)">
<ellipse cx="0" cy="167.75" rx="1.8" ry="2.43" fill="#48d4ec"/>
<ellipse cx="0" cy="167.75" rx="0.9" ry="1.22" fill="#62e05a"/>
<ellipse cx="0" cy="158" rx="3" ry="4.05" fill="#c9c2f2"/>
<ellipse cx="2.4" cy="175.88" rx="1.4" ry="1.89" fill="#c9c2f2"/>
</g>
<use href="#bk3" fill="none" stroke="#9080e0" stroke-width="1.6" filter="url(#bl1)"/>
</g></g>
<g transform="translate(171.8 0)">
<line x1="0" y1="147.7" x2="0" y2="152.5" stroke="#8a8a8a" stroke-width="0.9"/>
<path d="M0 183C-0.15 191.8 -0.5 196.2 -0.4 205" fill="none" stroke="#a8a8a8" stroke-width="1.3"/>
<line x1="-4.5" y1="180.75" x2="-6.9" y2="185.3" stroke="#9c9c9c" stroke-width="1.3"/>
<line x1="4.5" y1="180.75" x2="6.9" y2="185.3" stroke="#9c9c9c" stroke-width="1.3"/>
<g clip-path="url(#ck3)">
<use href="#bk3" fill="url(#wg)"/>
<g filter="url(#ds2)"><ellipse cx="0" cy="168.4" rx="5.7" ry="16.25" fill="#3030e8"/><ellipse cx="3" cy="179.12" rx="3" ry="3.9" fill="#9080f0" opacity="0.7"/></g>
<g filter="url(#ds2)">
<ellipse cx="0" cy="163.85" rx="2.6" ry="3.51" fill="#2a34ec"/>
<ellipse cx="0" cy="163.85" rx="2.11" ry="2.84" fill="#48d4ec"/>
<ellipse cx="0" cy="163.85" rx="1.61" ry="2.18" fill="#62e05a"/>
<ellipse cx="0" cy="163.85" rx="1.12" ry="1.51" fill="#ecec48"/>
<ellipse cx="0" cy="163.85" rx="0.62" ry="0.84" fill="#ec3016"/>
<ellipse cx="0" cy="175.88" rx="2" ry="2.7" fill="#48d4ec"/>
</g>
<use href="#bk3" fill="none" stroke="#8070e0" stroke-width="1.6" filter="url(#bl1)"/>
</g></g>
<g transform="translate(185.2 0)">
<line x1="0" y1="147.7" x2="0" y2="152.5" stroke="#8a8a8a" stroke-width="0.9"/>
<path d="M0 183C0.27 191.8 0.9 196.2 0.72 205" fill="none" stroke="#a8a8a8" stroke-width="1.3"/>
<line x1="-4.5" y1="180.75" x2="-6.9" y2="185.3" stroke="#9c9c9c" stroke-width="1.3"/>
<line x1="4.5" y1="180.75" x2="6.9" y2="185.3" stroke="#9c9c9c" stroke-width="1.3"/>
<use href="#bk3" fill="#3030e0" stroke="#3030e0" stroke-width="1.6" filter="url(#bl2)" opacity="0.9"/>
<g clip-path="url(#ck3)">
<use href="#bk3" fill="url(#wg)"/>
<g filter="url(#ds3)"><ellipse cx="0" cy="168.4" rx="5.7" ry="16.25" fill="#3030e8"/><ellipse cx="3" cy="179.12" rx="3" ry="3.9" fill="#9080f0" opacity="0.7"/></g>
<g filter="url(#ds3)">
<use href="#bk3" fill="#2a34ec" transform="translate(0 169.38) scale(1) translate(0 -169.38)"/>
<use href="#bk3" fill="#48d4ec" transform="translate(0 169.38) scale(0.87) translate(0 -169.38)"/>
<use href="#bk3" fill="#62e05a" transform="translate(0 169.38) scale(0.74) translate(0 -169.38)"/>
<use href="#bk3" fill="#ecec48" transform="translate(0 169.38) scale(0.61) translate(0 -169.38)"/>
<ellipse cx="-1.2" cy="162.88" rx="2.2" ry="2.97" fill="#ec3016"/>
<ellipse cx="0.9" cy="172.62" rx="2.8" ry="3.78" fill="#ec3016"/>
</g>
</g></g>
<g transform="translate(199.2 0)">
<line x1="0" y1="147.7" x2="0" y2="152.5" stroke="#8a8a8a" stroke-width="0.9"/>
<path d="M0 183C0.36 191.8 1.2 196.2 0.96 205" fill="none" stroke="#a8a8a8" stroke-width="1.3"/>
<line x1="-4.5" y1="180.75" x2="-6.9" y2="185.3" stroke="#9c9c9c" stroke-width="1.3"/>
<line x1="4.5" y1="180.75" x2="6.9" y2="185.3" stroke="#9c9c9c" stroke-width="1.3"/>
<use href="#bk3" fill="#3030e0" stroke="#3030e0" stroke-width="1.6" filter="url(#bl2)" opacity="0.9"/>
<g clip-path="url(#ck3)">
<use href="#bk3" fill="url(#wg)"/>
<g filter="url(#ds0)"><ellipse cx="0" cy="168.4" rx="5.7" ry="16.25" fill="#3030e8"/><ellipse cx="3" cy="179.12" rx="3" ry="3.9" fill="#9080f0" opacity="0.7"/></g>
<g filter="url(#ds0)">
<use href="#bk3" fill="#2a34ec" transform="translate(0 169.38) scale(1) translate(0 -169.38)"/>
<use href="#bk3" fill="#48d4ec" transform="translate(0 169.38) scale(0.87) translate(0 -169.38)"/>
<use href="#bk3" fill="#62e05a" transform="translate(0 169.38) scale(0.74) translate(0 -169.38)"/>
<ellipse cx="0" cy="169.38" rx="2.4" ry="3.24" fill="#ec3016"/>
<ellipse cx="1.2" cy="161.25" rx="1.2" ry="1.62" fill="#ecec48"/>
</g>
</g></g>
</svg>
<rect x="245.6" y="89.7" width="69.6" height="53.7" fill="#2c2c2c"/>
<rect x="245.6" y="89.7" width="69.6" height="30.8" fill="#171717" filter="url(#bl1)"/>
<svg x="245.6" y="89.7" width="69.6" height="53.7" viewBox="245.6 89.7 69.6 53.7" overflow="hidden">
<defs><path id="bk4" d="M1.04 91C1.55 91.31 1.7 92.19 1.97 92.86C2.24 93.53 2.5 94.31 2.67 95.03C2.83 95.75 2.83 96.48 2.96 97.2C3.08 97.92 3.17 98.59 3.42 99.37C3.67 100.15 4.16 100.92 4.47 101.85C4.78 102.78 5.07 103.87 5.28 104.95C5.48 106.03 5.6 106.66 5.68 108.36C5.77 110.06 5.82 113.53 5.8 115.18C5.78 116.83 5.71 117.4 5.57 118.28C5.42 119.16 5.33 119.83 4.93 120.45C4.53 121.07 4.54 121.74 3.19 122C1.84 122.26 -1.84 122.26 -3.19 122C-4.54 121.74 -4.53 121.07 -4.93 120.45C-5.33 119.83 -5.42 119.16 -5.57 118.28C-5.71 117.4 -5.78 116.83 -5.8 115.18C-5.82 113.53 -5.77 110.06 -5.68 108.36C-5.6 106.66 -5.48 106.03 -5.28 104.95C-5.07 103.87 -4.78 102.78 -4.47 101.85C-4.16 100.92 -3.67 100.15 -3.42 99.37C-3.17 98.59 -3.08 97.92 -2.96 97.2C-2.83 96.48 -2.83 95.75 -2.67 95.03C-2.5 94.31 -2.24 93.53 -1.97 92.86C-1.7 92.19 -1.55 91.31 -1.04 91C-0.54 90.69 0.54 90.69 1.04 91Z"/><clipPath id="ck4"><use href="#bk4"/></clipPath></defs>
<g transform="translate(253.1 0)">
<line x1="0" y1="89.7" x2="0" y2="92" stroke="#8a8a8a" stroke-width="0.9"/>
<path d="M0 121C-0.3 129.96 -1 134.44 -0.8 143.4" fill="none" stroke="#a8a8a8" stroke-width="1.3"/>
<line x1="-4.35" y1="118.9" x2="-6.67" y2="123.24" stroke="#9c9c9c" stroke-width="1.3"/>
<line x1="4.35" y1="118.9" x2="6.67" y2="123.24" stroke="#9c9c9c" stroke-width="1.3"/>
<g clip-path="url(#ck4)">
<use href="#bk4" fill="url(#wg)"/>
<g filter="url(#ds1)">
<ellipse cx="0" cy="98.75" rx="3.2" ry="4.32" fill="#2a34ec"/>
<ellipse cx="0" cy="108.05" rx="3.6" ry="4.86" fill="#2a34ec"/>
</g>
</g></g>
<g transform="translate(266.8 0)">
<line x1="0" y1="89.7" x2="0" y2="92" stroke="#8a8a8a" stroke-width="0.9"/>
<path d="M0 121C0.18 129.96 0.6 134.44 0.48 143.4" fill="none" stroke="#a8a8a8" stroke-width="1.3"/>
<line x1="-4.35" y1="118.9" x2="-6.67" y2="123.24" stroke="#9c9c9c" stroke-width="1.3"/>
<line x1="4.35" y1="118.9" x2="6.67" y2="123.24" stroke="#9c9c9c" stroke-width="1.3"/>
<g clip-path="url(#ck4)">
<use href="#bk4" fill="url(#wg)"/>
<g filter="url(#ds2)">
<ellipse cx="0" cy="98.75" rx="3" ry="4.05" fill="#2a34ec"/>
<ellipse cx="0.58" cy="109.6" rx="3.2" ry="4.32" fill="#2a34ec"/>
</g>
</g></g>
<defs><path id="bk5" d="M1.45 91C2.17 91.31 2.5 92.14 2.9 92.86C3.3 93.58 3.62 94.51 3.83 95.34C4.04 96.17 4.04 96.99 4.18 97.82C4.31 98.65 4.44 99.37 4.64 100.3C4.84 101.23 5.2 102.26 5.39 103.4C5.59 104.54 5.73 105.16 5.8 107.12C5.87 109.08 5.84 113.32 5.8 115.18C5.76 117.04 5.66 117.4 5.57 118.28C5.47 119.16 5.57 119.83 5.22 120.45C4.87 121.07 4.93 121.74 3.48 122C2.03 122.26 -2.03 122.26 -3.48 122C-4.93 121.74 -4.87 121.07 -5.22 120.45C-5.57 119.83 -5.47 119.16 -5.57 118.28C-5.66 117.4 -5.76 117.04 -5.8 115.18C-5.84 113.32 -5.87 109.08 -5.8 107.12C-5.73 105.16 -5.59 104.54 -5.39 103.4C-5.2 102.26 -4.84 101.23 -4.64 100.3C-4.44 99.37 -4.31 98.65 -4.18 97.82C-4.04 96.99 -4.04 96.17 -3.83 95.34C-3.62 94.51 -3.3 93.58 -2.9 92.86C-2.5 92.14 -2.17 91.31 -1.45 91C-0.72 90.69 0.72 90.69 1.45 91Z"/><clipPath id="ck5"><use href="#bk5"/></clipPath></defs>
<g transform="translate(280.8 0)">
<line x1="0" y1="89.7" x2="0" y2="92" stroke="#8a8a8a" stroke-width="0.9"/>
<path d="M0 121C-0.42 129.96 -1.4 134.44 -1.12 143.4" fill="none" stroke="#a8a8a8" stroke-width="1.3"/>
<line x1="-4.35" y1="118.9" x2="-6.67" y2="123.24" stroke="#9c9c9c" stroke-width="1.3"/>
<line x1="4.35" y1="118.9" x2="6.67" y2="123.24" stroke="#9c9c9c" stroke-width="1.3"/>
<g clip-path="url(#ck5)">
<use href="#bk5" fill="url(#wg)"/>
<g filter="url(#ds3)"><ellipse cx="0" cy="107.12" rx="5.51" ry="15.5" fill="#3030e8"/><ellipse cx="2.9" cy="117.35" rx="2.9" ry="3.72" fill="#9080f0" opacity="0.7"/></g>
<g filter="url(#ds3)">
<ellipse cx="0" cy="108.98" rx="3.8" ry="5.13" fill="#2a34ec"/>
<ellipse cx="0" cy="108.98" rx="3.08" ry="4.16" fill="#48d4ec"/>
<ellipse cx="0" cy="108.98" rx="2.36" ry="3.18" fill="#62e05a"/>
<ellipse cx="0" cy="94.72" rx="2.6" ry="3.51" fill="#2a34ec"/>
<ellipse cx="0" cy="94.72" rx="2.11" ry="2.84" fill="#48d4ec"/>
<ellipse cx="0" cy="94.72" rx="1.61" ry="2.18" fill="#62e05a"/>
<ellipse cx="1.74" cy="101.85" rx="1.5" ry="2.03" fill="#48d4ec"/>
<ellipse cx="0.58" cy="109.6" rx="1.2" ry="1.62" fill="#ecec48"/>
</g>
<use href="#bk5" fill="none" stroke="#b8a8f8" stroke-width="1.6" filter="url(#bl1)"/>
</g></g>
<g transform="translate(294.2 0)">
<line x1="0" y1="89.7" x2="0" y2="92" stroke="#8a8a8a" stroke-width="0.9"/>
<path d="M0 121C0.48 129.96 1.6 134.44 1.28 143.4" fill="none" stroke="#a8a8a8" stroke-width="1.3"/>
<line x1="-4.35" y1="118.9" x2="-6.67" y2="123.24" stroke="#9c9c9c" stroke-width="1.3"/>
<line x1="4.35" y1="118.9" x2="6.67" y2="123.24" stroke="#9c9c9c" stroke-width="1.3"/>
<g clip-path="url(#ck5)">
<use href="#bk5" fill="url(#wg)"/>
<g filter="url(#ds0)"><ellipse cx="0" cy="107.12" rx="5.51" ry="15.5" fill="#3030e8"/><ellipse cx="2.9" cy="117.35" rx="2.9" ry="3.72" fill="#9080f0" opacity="0.7"/></g>
<g filter="url(#ds0)">
<ellipse cx="0" cy="106.5" rx="3.6" ry="4.86" fill="#2a34ec"/>
<ellipse cx="0" cy="106.5" rx="2.92" ry="3.94" fill="#48d4ec"/>
<ellipse cx="0" cy="106.5" rx="2.23" ry="3.01" fill="#62e05a"/>
<ellipse cx="0" cy="95.34" rx="2.6" ry="3.51" fill="#2a34ec"/>
<ellipse cx="0" cy="95.34" rx="2.11" ry="2.84" fill="#48d4ec"/>
<ellipse cx="0" cy="95.34" rx="1.61" ry="2.18" fill="#62e05a"/>
<ellipse cx="-1.16" cy="100.3" rx="1.4" ry="1.89" fill="#48d4ec"/>
</g>
<use href="#bk5" fill="none" stroke="#b8a8f8" stroke-width="1.6" filter="url(#bl1)"/>
</g></g>
<g transform="translate(308.7 0)">
<line x1="0" y1="89.7" x2="0" y2="92" stroke="#8a8a8a" stroke-width="0.9"/>
<path d="M0 121C-0.15 129.96 -0.5 134.44 -0.4 143.4" fill="none" stroke="#a8a8a8" stroke-width="1.3"/>
<line x1="-4.35" y1="118.9" x2="-6.67" y2="123.24" stroke="#9c9c9c" stroke-width="1.3"/>
<line x1="4.35" y1="118.9" x2="6.67" y2="123.24" stroke="#9c9c9c" stroke-width="1.3"/>
<g clip-path="url(#ck4)">
<use href="#bk4" fill="url(#wg)"/>
<g filter="url(#ds1)">
<ellipse cx="0" cy="104.95" rx="2.6" ry="3.51" fill="#c9c2f2"/>
</g>
</g></g>
</svg>
<rect x="319.6" y="89.7" width="71" height="53.7" fill="#2c2c2c"/>
<rect x="319.6" y="89.7" width="71" height="30.8" fill="#171717" filter="url(#bl1)"/>
<svg x="319.6" y="89.7" width="71" height="53.7" viewBox="319.6 89.7 71 53.7" overflow="hidden">
<g transform="translate(326.4 0)">
<line x1="0" y1="89.7" x2="0" y2="92" stroke="#8a8a8a" stroke-width="0.9"/>
<path d="M0 121C0.27 129.96 0.9 134.44 0.72 143.4" fill="none" stroke="#a8a8a8" stroke-width="1.3"/>
<line x1="-4.35" y1="118.9" x2="-6.67" y2="123.24" stroke="#9c9c9c" stroke-width="1.3"/>
<line x1="4.35" y1="118.9" x2="6.67" y2="123.24" stroke="#9c9c9c" stroke-width="1.3"/>
<g clip-path="url(#ck4)">
<use href="#bk4" fill="url(#wg)"/>
<g filter="url(#ds2)">
</g>
</g></g>
<g transform="translate(340.1 0)">
<line x1="0" y1="89.7" x2="0" y2="92" stroke="#8a8a8a" stroke-width="0.9"/>
<path d="M0 121C0.36 129.96 1.2 134.44 0.96 143.4" fill="none" stroke="#a8a8a8" stroke-width="1.3"/>
<line x1="-4.35" y1="118.9" x2="-6.67" y2="123.24" stroke="#9c9c9c" stroke-width="1.3"/>
<line x1="4.35" y1="118.9" x2="6.67" y2="123.24" stroke="#9c9c9c" stroke-width="1.3"/>
<g clip-path="url(#ck4)">
<use href="#bk4" fill="url(#wg)"/>
<g filter="url(#ds3)">
</g>
</g></g>
<g transform="translate(353.8 0)">
<line x1="0" y1="89.7" x2="0" y2="92" stroke="#8a8a8a" stroke-width="0.9"/>
<path d="M0 121C-0.3 129.96 -1 134.44 -0.8 143.4" fill="none" stroke="#a8a8a8" stroke-width="1.3"/>
<line x1="-4.35" y1="118.9" x2="-6.67" y2="123.24" stroke="#9c9c9c" stroke-width="1.3"/>
<line x1="4.35" y1="118.9" x2="6.67" y2="123.24" stroke="#9c9c9c" stroke-width="1.3"/>
<g clip-path="url(#ck4)">
<use href="#bk4" fill="url(#wg)"/>
<g filter="url(#ds0)">
</g>
</g></g>
<g transform="translate(368.2 0)">
<line x1="0" y1="89.7" x2="0" y2="92" stroke="#8a8a8a" stroke-width="0.9"/>
<path d="M0 121C0.18 129.96 0.6 134.44 0.48 143.4" fill="none" stroke="#a8a8a8" stroke-width="1.3"/>
<line x1="-4.35" y1="118.9" x2="-6.67" y2="123.24" stroke="#9c9c9c" stroke-width="1.3"/>
<line x1="4.35" y1="118.9" x2="6.67" y2="123.24" stroke="#9c9c9c" stroke-width="1.3"/>
<g clip-path="url(#ck4)">
<use href="#bk4" fill="url(#wg)"/>
<g filter="url(#ds1)">
<ellipse cx="0" cy="100.3" rx="1.8" ry="2.43" fill="#8a70f0"/>
<ellipse cx="0" cy="108.98" rx="2.2" ry="2.97" fill="#2a34ec"/>
</g>
</g></g>
<g transform="translate(382.7 0)">
<line x1="0" y1="89.7" x2="0" y2="92" stroke="#8a8a8a" stroke-width="0.9"/>
<path d="M0 121C-0.42 129.96 -1.4 134.44 -1.12 143.4" fill="none" stroke="#a8a8a8" stroke-width="1.3"/>
<line x1="-4.35" y1="118.9" x2="-6.67" y2="123.24" stroke="#9c9c9c" stroke-width="1.3"/>
<line x1="4.35" y1="118.9" x2="6.67" y2="123.24" stroke="#9c9c9c" stroke-width="1.3"/>
<g clip-path="url(#ck4)">
<use href="#bk4" fill="url(#wg)"/>
<use href="#bk4" fill="#b0a0f8" opacity="0.45"/>
<g filter="url(#ds2)">
<ellipse cx="0" cy="106.5" rx="3.4" ry="5.44" fill="#2a34ec"/>
<ellipse cx="0" cy="97.2" rx="2.4" ry="3.24" fill="#8a70f0"/>
</g>
</g></g>
</svg>
<rect x="393.6" y="89.7" width="70.3" height="53.7" fill="#2c2c2c"/>
<rect x="393.6" y="89.7" width="70.3" height="30.8" fill="#171717" filter="url(#bl1)"/>
<svg x="393.6" y="89.7" width="70.3" height="53.7" viewBox="393.6 89.7 70.3 53.7" overflow="hidden">
<g transform="translate(401.1 0)">
<line x1="0" y1="89.7" x2="0" y2="92" stroke="#8a8a8a" stroke-width="0.9"/>
<path d="M0 121C0.48 129.96 1.6 134.44 1.28 143.4" fill="none" stroke="#a8a8a8" stroke-width="1.3"/>
<line x1="-4.35" y1="118.9" x2="-6.67" y2="123.24" stroke="#9c9c9c" stroke-width="1.3"/>
<line x1="4.35" y1="118.9" x2="6.67" y2="123.24" stroke="#9c9c9c" stroke-width="1.3"/>
<g clip-path="url(#ck4)">
<use href="#bk4" fill="url(#wg)"/>
<g filter="url(#ds3)">
</g>
</g></g>
<g transform="translate(414.1 0)">
<line x1="0" y1="89.7" x2="0" y2="92" stroke="#8a8a8a" stroke-width="0.9"/>
<path d="M0 121C-0.15 129.96 -0.5 134.44 -0.4 143.4" fill="none" stroke="#a8a8a8" stroke-width="1.3"/>
<line x1="-4.35" y1="118.9" x2="-6.67" y2="123.24" stroke="#9c9c9c" stroke-width="1.3"/>
<line x1="4.35" y1="118.9" x2="6.67" y2="123.24" stroke="#9c9c9c" stroke-width="1.3"/>
<g clip-path="url(#ck4)">
<use href="#bk4" fill="url(#wg)"/>
<g filter="url(#ds0)">
</g>
</g></g>
<g transform="translate(428.2 0)">
<line x1="0" y1="89.7" x2="0" y2="92" stroke="#8a8a8a" stroke-width="0.9"/>
<path d="M0 121C0.27 129.96 0.9 134.44 0.72 143.4" fill="none" stroke="#a8a8a8" stroke-width="1.3"/>
<line x1="-4.35" y1="118.9" x2="-6.67" y2="123.24" stroke="#9c9c9c" stroke-width="1.3"/>
<line x1="4.35" y1="118.9" x2="6.67" y2="123.24" stroke="#9c9c9c" stroke-width="1.3"/>
<g clip-path="url(#ck4)">
<use href="#bk4" fill="url(#wg)"/>
<g filter="url(#ds1)">
</g>
</g></g>
<g transform="translate(442.2 0)">
<line x1="0" y1="89.7" x2="0" y2="92" stroke="#8a8a8a" stroke-width="0.9"/>
<path d="M0 121C0.36 129.96 1.2 134.44 0.96 143.4" fill="none" stroke="#a8a8a8" stroke-width="1.3"/>
<line x1="-4.35" y1="118.9" x2="-6.67" y2="123.24" stroke="#9c9c9c" stroke-width="1.3"/>
<line x1="4.35" y1="118.9" x2="6.67" y2="123.24" stroke="#9c9c9c" stroke-width="1.3"/>
<g clip-path="url(#ck4)">
<use href="#bk4" fill="url(#wg)"/>
<g filter="url(#ds2)">
<ellipse cx="0" cy="100.3" rx="2" ry="2.7" fill="#c9c2f2"/>
</g>
</g></g>
<g transform="translate(456.7 0)">
<line x1="0" y1="89.7" x2="0" y2="92" stroke="#8a8a8a" stroke-width="0.9"/>
<path d="M0 121C-0.3 129.96 -1 134.44 -0.8 143.4" fill="none" stroke="#a8a8a8" stroke-width="1.3"/>
<line x1="-4.35" y1="118.9" x2="-6.67" y2="123.24" stroke="#9c9c9c" stroke-width="1.3"/>
<line x1="4.35" y1="118.9" x2="6.67" y2="123.24" stroke="#9c9c9c" stroke-width="1.3"/>
<g clip-path="url(#ck4)">
<use href="#bk4" fill="url(#wg)"/>
<g filter="url(#ds3)">
</g>
</g></g>
</svg>
<rect x="245.2" y="148.6" width="70" height="56.6" fill="#2c2c2c"/>
<rect x="245.2" y="148.6" width="70" height="30.9" fill="#171717" filter="url(#bl1)"/>
<svg x="245.2" y="148.6" width="70" height="56.6" viewBox="245.2 148.6 70 56.6" overflow="hidden">
<defs><path id="bk6" d="M1.04 152C1.55 152.29 1.7 153.11 1.97 153.74C2.24 154.37 2.5 155.09 2.67 155.77C2.83 156.45 2.83 157.12 2.96 157.8C3.08 158.48 3.17 159.11 3.42 159.83C3.67 160.56 4.16 161.28 4.47 162.15C4.78 163.02 5.07 164.04 5.28 165.05C5.48 166.06 5.6 166.65 5.68 168.24C5.77 169.84 5.82 173.07 5.8 174.62C5.78 176.17 5.71 176.7 5.57 177.52C5.42 178.34 5.33 178.97 4.93 179.55C4.53 180.13 4.54 180.76 3.19 181C1.84 181.24 -1.84 181.24 -3.19 181C-4.54 180.76 -4.53 180.13 -4.93 179.55C-5.33 178.97 -5.42 178.34 -5.57 177.52C-5.71 176.7 -5.78 176.17 -5.8 174.62C-5.82 173.07 -5.77 169.84 -5.68 168.24C-5.6 166.65 -5.48 166.06 -5.28 165.05C-5.07 164.04 -4.78 163.02 -4.47 162.15C-4.16 161.28 -3.67 160.56 -3.42 159.83C-3.17 159.11 -3.08 158.48 -2.96 157.8C-2.83 157.12 -2.83 156.45 -2.67 155.77C-2.5 155.09 -2.24 154.37 -1.97 153.74C-1.7 153.11 -1.55 152.29 -1.04 152C-0.54 151.71 0.54 151.71 1.04 152Z"/><clipPath id="ck6"><use href="#bk6"/></clipPath></defs>
<g transform="translate(253.1 0)">
<line x1="0" y1="148.6" x2="0" y2="153" stroke="#8a8a8a" stroke-width="0.9"/>
<path d="M0 180C0.18 190.08 0.6 195.12 0.48 205.2" fill="none" stroke="#a8a8a8" stroke-width="1.3"/>
<line x1="-4.35" y1="178.1" x2="-6.67" y2="182.16" stroke="#9c9c9c" stroke-width="1.3"/>
<line x1="4.35" y1="178.1" x2="6.67" y2="182.16" stroke="#9c9c9c" stroke-width="1.3"/>
<g clip-path="url(#ck6)">
<use href="#bk6" fill="url(#wg)"/>
<g filter="url(#ds0)">
<ellipse cx="0" cy="162.15" rx="3.4" ry="4.59" fill="#2a34ec"/>
<ellipse cx="0" cy="170.85" rx="2.6" ry="3.51" fill="#2a34ec"/>
</g>
</g></g>
<g transform="translate(267.5 0)">
<line x1="0" y1="148.6" x2="0" y2="153" stroke="#8a8a8a" stroke-width="0.9"/>
<path d="M0 180C-0.42 190.08 -1.4 195.12 -1.12 205.2" fill="none" stroke="#a8a8a8" stroke-width="1.3"/>
<line x1="-4.35" y1="178.1" x2="-6.67" y2="182.16" stroke="#9c9c9c" stroke-width="1.3"/>
<line x1="4.35" y1="178.1" x2="6.67" y2="182.16" stroke="#9c9c9c" stroke-width="1.3"/>
<g clip-path="url(#ck6)">
<use href="#bk6" fill="url(#wg)"/>
<g filter="url(#ds1)">
<ellipse cx="0" cy="160.7" rx="2.6" ry="3.51" fill="#8a70f0"/>
<ellipse cx="0" cy="169.4" rx="2.4" ry="3.24" fill="#2a34ec"/>
</g>
</g></g>
<defs><path id="bk7" d="M1.45 152C2.17 152.29 2.5 153.06 2.9 153.74C3.3 154.42 3.62 155.29 3.83 156.06C4.04 156.83 4.04 157.61 4.18 158.38C4.31 159.15 4.44 159.83 4.64 160.7C4.84 161.57 5.2 162.54 5.39 163.6C5.59 164.66 5.73 165.24 5.8 167.08C5.87 168.92 5.84 172.88 5.8 174.62C5.76 176.36 5.66 176.7 5.57 177.52C5.47 178.34 5.57 178.97 5.22 179.55C4.87 180.13 4.93 180.76 3.48 181C2.03 181.24 -2.03 181.24 -3.48 181C-4.93 180.76 -4.87 180.13 -5.22 179.55C-5.57 178.97 -5.47 178.34 -5.57 177.52C-5.66 176.7 -5.76 176.36 -5.8 174.62C-5.84 172.88 -5.87 168.92 -5.8 167.08C-5.73 165.24 -5.59 164.66 -5.39 163.6C-5.2 162.54 -4.84 161.57 -4.64 160.7C-4.44 159.83 -4.31 159.15 -4.18 158.38C-4.04 157.61 -4.04 156.83 -3.83 156.06C-3.62 155.29 -3.3 154.42 -2.9 153.74C-2.5 153.06 -2.17 152.29 -1.45 152C-0.72 151.71 0.72 151.71 1.45 152Z"/><clipPath id="ck7"><use href="#bk7"/></clipPath></defs>
<g transform="translate(280.8 0)">
<line x1="0" y1="148.6" x2="0" y2="153" stroke="#8a8a8a" stroke-width="0.9"/>
<path d="M0 180C0.48 190.08 1.6 195.12 1.28 205.2" fill="none" stroke="#7a7ad0" stroke-width="1.3"/>
<line x1="-4.35" y1="178.1" x2="-6.67" y2="182.16" stroke="#9c9c9c" stroke-width="1.3"/>
<line x1="4.35" y1="178.1" x2="6.67" y2="182.16" stroke="#9c9c9c" stroke-width="1.3"/>
<g clip-path="url(#ck7)">
<use href="#bk7" fill="url(#wg)"/>
<g filter="url(#ds2)"><ellipse cx="0" cy="167.08" rx="5.51" ry="14.5" fill="#3030e8"/><ellipse cx="2.9" cy="176.65" rx="2.9" ry="3.48" fill="#9080f0" opacity="0.7"/></g>
<g filter="url(#ds2)">
<ellipse cx="0" cy="166.5" rx="3.8" ry="5.7" fill="#2a34ec"/>
<ellipse cx="0" cy="166.5" rx="3.08" ry="4.62" fill="#48d4ec"/>
<ellipse cx="0" cy="166.5" rx="2.36" ry="3.53" fill="#62e05a"/>
<ellipse cx="0" cy="156.64" rx="3.2" ry="3.84" fill="#2a34ec"/>
<ellipse cx="0" cy="156.64" rx="2.59" ry="3.11" fill="#48d4ec"/>
<ellipse cx="0" cy="156.64" rx="1.98" ry="2.38" fill="#62e05a"/>
<ellipse cx="0" cy="156.64" rx="1.38" ry="1.65" fill="#ecec48"/>
<ellipse cx="0" cy="156.64" rx="0.77" ry="0.92" fill="#ec3016"/>
<ellipse cx="1.74" cy="173.75" rx="1.4" ry="1.89" fill="#48d4ec"/>
</g>
<use href="#bk7" fill="none" stroke="#b8a8f8" stroke-width="1.6" filter="url(#bl1)"/>
</g></g>
<g transform="translate(294.2 0)">
<line x1="0" y1="148.6" x2="0" y2="153" stroke="#8a8a8a" stroke-width="0.9"/>
<path d="M0 180C-0.15 190.08 -0.5 195.12 -0.4 205.2" fill="none" stroke="#7a7ad0" stroke-width="1.3"/>
<line x1="-4.35" y1="178.1" x2="-6.67" y2="182.16" stroke="#9c9c9c" stroke-width="1.3"/>
<line x1="4.35" y1="178.1" x2="6.67" y2="182.16" stroke="#9c9c9c" stroke-width="1.3"/>
<g clip-path="url(#ck7)">
<use href="#bk7" fill="url(#wg)"/>
<g filter="url(#ds3)"><ellipse cx="0" cy="167.08" rx="5.51" ry="14.5" fill="#3030e8"/><ellipse cx="2.9" cy="176.65" rx="2.9" ry="3.48" fill="#9080f0" opacity="0.7"/></g>
<g filter="url(#ds3)">
<ellipse cx="0" cy="169.98" rx="3.4" ry="4.59" fill="#2a34ec"/>
<ellipse cx="0" cy="169.98" rx="2.75" ry="3.72" fill="#48d4ec"/>
<ellipse cx="0" cy="169.98" rx="2.11" ry="2.85" fill="#62e05a"/>
<ellipse cx="0" cy="161.28" rx="4.6" ry="7.36" fill="#2a34ec"/>
<ellipse cx="0" cy="161.28" rx="3.73" ry="5.96" fill="#48d4ec"/>
<ellipse cx="0" cy="161.28" rx="2.85" ry="4.56" fill="#62e05a"/>
<ellipse cx="0" cy="161.28" rx="1.98" ry="3.16" fill="#ecec48"/>
<ellipse cx="0" cy="161.28" rx="1.1" ry="1.77" fill="#ec3016"/>
</g>
<use href="#bk7" fill="none" stroke="#b8a8f8" stroke-width="1.6" filter="url(#bl1)"/>
</g></g>
<g transform="translate(308.7 0)">
<line x1="0" y1="148.6" x2="0" y2="153" stroke="#8a8a8a" stroke-width="0.9"/>
<path d="M0 180C0.27 190.08 0.9 195.12 0.72 205.2" fill="none" stroke="#a8a8a8" stroke-width="1.3"/>
<line x1="-4.35" y1="178.1" x2="-6.67" y2="182.16" stroke="#9c9c9c" stroke-width="1.3"/>
<line x1="4.35" y1="178.1" x2="6.67" y2="182.16" stroke="#9c9c9c" stroke-width="1.3"/>
<g clip-path="url(#ck6)">
<use href="#bk6" fill="url(#wg)"/>
<use href="#bk6" fill="#b0a0f8" opacity="0.45"/>
<g filter="url(#ds0)">
<ellipse cx="0" cy="162.15" rx="3.6" ry="4.86" fill="#2a34ec"/>
<ellipse cx="0" cy="157.8" rx="2" ry="2.7" fill="#48d4ec"/>
<ellipse cx="1.16" cy="157.8" rx="0.8" ry="1.08" fill="#ecec48"/>
</g>
</g></g>
</svg>
<rect x="319.6" y="148.6" width="71" height="56.6" fill="#2c2c2c"/>
<rect x="319.6" y="148.6" width="71" height="30.9" fill="#171717" filter="url(#bl1)"/>
<svg x="319.6" y="148.6" width="71" height="56.6" viewBox="319.6 148.6 71 56.6" overflow="hidden">
<g transform="translate(327.1 0)">
<line x1="0" y1="148.6" x2="0" y2="153" stroke="#8a8a8a" stroke-width="0.9"/>
<path d="M0 180C0.36 190.08 1.2 195.12 0.96 205.2" fill="none" stroke="#a8a8a8" stroke-width="1.3"/>
<line x1="-4.35" y1="178.1" x2="-6.67" y2="182.16" stroke="#9c9c9c" stroke-width="1.3"/>
<line x1="4.35" y1="178.1" x2="6.67" y2="182.16" stroke="#9c9c9c" stroke-width="1.3"/>
<g clip-path="url(#ck6)">
<use href="#bk6" fill="url(#wg)"/>
<g filter="url(#ds1)">
</g>
</g></g>
<g transform="translate(340.8 0)">
<line x1="0" y1="148.6" x2="0" y2="153" stroke="#8a8a8a" stroke-width="0.9"/>
<path d="M0 180C-0.3 190.08 -1 195.12 -0.8 205.2" fill="none" stroke="#a8a8a8" stroke-width="1.3"/>
<line x1="-4.35" y1="178.1" x2="-6.67" y2="182.16" stroke="#9c9c9c" stroke-width="1.3"/>
<line x1="4.35" y1="178.1" x2="6.67" y2="182.16" stroke="#9c9c9c" stroke-width="1.3"/>
<g clip-path="url(#ck6)">
<use href="#bk6" fill="url(#wg)"/>
<g filter="url(#ds2)">
<ellipse cx="0" cy="163.02" rx="2.2" ry="2.97" fill="#2a34ec"/>
<ellipse cx="0.58" cy="170.56" rx="1.8" ry="2.43" fill="#2a34ec"/>
<ellipse cx="-1.74" cy="166.5" rx="1.2" ry="1.62" fill="#8a70f0"/>
</g>
</g></g>
<g transform="translate(353.8 0)">
<line x1="0" y1="148.6" x2="0" y2="153" stroke="#8a8a8a" stroke-width="0.9"/>
<path d="M0 180C0.18 190.08 0.6 195.12 0.48 205.2" fill="none" stroke="#a8a8a8" stroke-width="1.3"/>
<line x1="-4.35" y1="178.1" x2="-6.67" y2="182.16" stroke="#9c9c9c" stroke-width="1.3"/>
<line x1="4.35" y1="178.1" x2="6.67" y2="182.16" stroke="#9c9c9c" stroke-width="1.3"/>
<g clip-path="url(#ck6)">
<use href="#bk6" fill="url(#wg)"/>
<g filter="url(#ds3)">
<ellipse cx="0" cy="164.18" rx="3" ry="4.05" fill="#2a34ec"/>
<ellipse cx="-1.74" cy="169.98" rx="1.8" ry="2.43" fill="#2a34ec"/>
</g>
</g></g>
<g transform="translate(369 0)">
<line x1="0" y1="148.6" x2="0" y2="153" stroke="#8a8a8a" stroke-width="0.9"/>
<path d="M0 180C-0.42 190.08 -1.4 195.12 -1.12 205.2" fill="none" stroke="#a8a8a8" stroke-width="1.3"/>
<line x1="-4.35" y1="178.1" x2="-6.67" y2="182.16" stroke="#9c9c9c" stroke-width="1.3"/>
<line x1="4.35" y1="178.1" x2="6.67" y2="182.16" stroke="#9c9c9c" stroke-width="1.3"/>
<g clip-path="url(#ck6)">
<use href="#bk6" fill="url(#wg)"/>
<g filter="url(#ds0)">
<ellipse cx="0" cy="165.92" rx="2.8" ry="3.78" fill="#2a34ec"/>
<ellipse cx="1.16" cy="160.12" rx="1.6" ry="2.16" fill="#2a34ec"/>
<ellipse cx="0" cy="156.35" rx="1.4" ry="1.89" fill="#c9c2f2"/>
</g>
</g></g>
<g transform="translate(381.9 0)">
<line x1="0" y1="148.6" x2="0" y2="153" stroke="#8a8a8a" stroke-width="0.9"/>
<path d="M0 180C0.48 190.08 1.6 195.12 1.28 205.2" fill="none" stroke="#6a6ac0" stroke-width="1.3"/>
<line x1="-4.35" y1="178.1" x2="-6.67" y2="182.16" stroke="#9c9c9c" stroke-width="1.3"/>
<line x1="4.35" y1="178.1" x2="6.67" y2="182.16" stroke="#9c9c9c" stroke-width="1.3"/>
<g clip-path="url(#ck7)">
<use href="#bk7" fill="url(#wg)"/>
<g filter="url(#ds1)"><ellipse cx="0" cy="167.08" rx="5.51" ry="14.5" fill="#3030e8"/><ellipse cx="2.9" cy="176.65" rx="2.9" ry="3.48" fill="#9080f0" opacity="0.7"/></g>
<g filter="url(#ds1)">
<ellipse cx="0" cy="165.05" rx="3" ry="4.05" fill="#2a34ec"/>
<ellipse cx="0" cy="165.05" rx="2.43" ry="3.28" fill="#48d4ec"/>
<ellipse cx="0" cy="165.05" rx="1.86" ry="2.51" fill="#62e05a"/>
<ellipse cx="0" cy="165.05" rx="1.29" ry="1.74" fill="#ecec48"/>
<ellipse cx="0" cy="155.48" rx="2" ry="2.7" fill="#8a70f0"/>
</g>
<use href="#bk7" fill="none" stroke="#b8a8f8" stroke-width="1.6" filter="url(#bl1)"/>
</g></g>
</svg>
<rect x="393.6" y="148.6" width="70.3" height="56.6" fill="#2c2c2c"/>
<rect x="393.6" y="148.6" width="70.3" height="30.9" fill="#171717" filter="url(#bl1)"/>
<svg x="393.6" y="148.6" width="70.3" height="56.6" viewBox="393.6 148.6 70.3 56.6" overflow="hidden">
<g transform="translate(402.5 0)">
<line x1="0" y1="148.6" x2="0" y2="153" stroke="#8a8a8a" stroke-width="0.9"/>
<path d="M0 180C-0.15 190.08 -0.5 195.12 -0.4 205.2" fill="none" stroke="#a8a8a8" stroke-width="1.3"/>
<line x1="-4.35" y1="178.1" x2="-6.67" y2="182.16" stroke="#9c9c9c" stroke-width="1.3"/>
<line x1="4.35" y1="178.1" x2="6.67" y2="182.16" stroke="#9c9c9c" stroke-width="1.3"/>
<g clip-path="url(#ck6)">
<use href="#bk6" fill="url(#wg)"/>
<g filter="url(#ds2)">
</g>
</g></g>
<g transform="translate(417 0)">
<line x1="0" y1="148.6" x2="0" y2="153" stroke="#8a8a8a" stroke-width="0.9"/>
<path d="M0 180C0.27 190.08 0.9 195.12 0.72 205.2" fill="none" stroke="#a8a8a8" stroke-width="1.3"/>
<line x1="-4.35" y1="178.1" x2="-6.67" y2="182.16" stroke="#9c9c9c" stroke-width="1.3"/>
<line x1="4.35" y1="178.1" x2="6.67" y2="182.16" stroke="#9c9c9c" stroke-width="1.3"/>
<g clip-path="url(#ck6)">
<use href="#bk6" fill="url(#wg)"/>
<g filter="url(#ds3)">
<ellipse cx="0" cy="155.48" rx="1.8" ry="2.43" fill="#c9c2f2"/>
</g>
</g></g>
<g transform="translate(430 0)">
<line x1="0" y1="148.6" x2="0" y2="153" stroke="#8a8a8a" stroke-width="0.9"/>
<path d="M0 180C0.36 190.08 1.2 195.12 0.96 205.2" fill="none" stroke="#a8a8a8" stroke-width="1.3"/>
<line x1="-4.35" y1="178.1" x2="-6.67" y2="182.16" stroke="#9c9c9c" stroke-width="1.3"/>
<line x1="4.35" y1="178.1" x2="6.67" y2="182.16" stroke="#9c9c9c" stroke-width="1.3"/>
<g clip-path="url(#ck6)">
<use href="#bk6" fill="url(#wg)"/>
<g filter="url(#ds0)">
<ellipse cx="0" cy="155.48" rx="1.8" ry="2.43" fill="#c9c2f2"/>
</g>
</g></g>
<g transform="translate(443.7 0)">
<line x1="0" y1="148.6" x2="0" y2="153" stroke="#8a8a8a" stroke-width="0.9"/>
<path d="M0 180C-0.3 190.08 -1 195.12 -0.8 205.2" fill="none" stroke="#a8a8a8" stroke-width="1.3"/>
<line x1="-4.35" y1="178.1" x2="-6.67" y2="182.16" stroke="#9c9c9c" stroke-width="1.3"/>
<line x1="4.35" y1="178.1" x2="6.67" y2="182.16" stroke="#9c9c9c" stroke-width="1.3"/>
<g clip-path="url(#ck6)">
<use href="#bk6" fill="url(#wg)"/>
<g filter="url(#ds1)">
<ellipse cx="0" cy="156.35" rx="2" ry="2.7" fill="#c9c2f2"/>
</g>
</g></g>
<g transform="translate(457.4 0)">
<line x1="0" y1="148.6" x2="0" y2="153" stroke="#8a8a8a" stroke-width="0.9"/>
<path d="M0 180C0.18 190.08 0.6 195.12 0.48 205.2" fill="none" stroke="#a8a8a8" stroke-width="1.3"/>
<line x1="-4.35" y1="178.1" x2="-6.67" y2="182.16" stroke="#9c9c9c" stroke-width="1.3"/>
<line x1="4.35" y1="178.1" x2="6.67" y2="182.16" stroke="#9c9c9c" stroke-width="1.3"/>
<g clip-path="url(#ck6)">
<use href="#bk6" fill="url(#wg)"/>
<g filter="url(#ds2)">
</g>
</g></g>
</svg>
<rect x="247" y="210.6" width="68.2" height="56.9" fill="#2c2c2c"/>
<rect x="247" y="210.6" width="68.2" height="29.9" fill="#171717" filter="url(#bl1)"/>
<svg x="247" y="210.6" width="68.2" height="56.9" viewBox="247 210.6 68.2 56.9" overflow="hidden">
<defs><path id="bk8" d="M1.45 213C2.17 213.29 2.5 214.06 2.9 214.74C3.3 215.42 3.62 216.29 3.83 217.06C4.04 217.83 4.04 218.61 4.18 219.38C4.31 220.15 4.44 220.83 4.64 221.7C4.84 222.57 5.2 223.54 5.39 224.6C5.59 225.66 5.73 226.24 5.8 228.08C5.87 229.92 5.84 233.88 5.8 235.62C5.76 237.36 5.66 237.7 5.57 238.52C5.47 239.34 5.57 239.97 5.22 240.55C4.87 241.13 4.93 241.76 3.48 242C2.03 242.24 -2.03 242.24 -3.48 242C-4.93 241.76 -4.87 241.13 -5.22 240.55C-5.57 239.97 -5.47 239.34 -5.57 238.52C-5.66 237.7 -5.76 237.36 -5.8 235.62C-5.84 233.88 -5.87 229.92 -5.8 228.08C-5.73 226.24 -5.59 225.66 -5.39 224.6C-5.2 223.54 -4.84 222.57 -4.64 221.7C-4.44 220.83 -4.31 220.15 -4.18 219.38C-4.04 218.61 -4.04 217.83 -3.83 217.06C-3.62 216.29 -3.3 215.42 -2.9 214.74C-2.5 214.06 -2.17 213.29 -1.45 213C-0.72 212.71 0.72 212.71 1.45 213Z"/><clipPath id="ck8"><use href="#bk8"/></clipPath></defs>
<g transform="translate(254.3 0)">
<line x1="0" y1="210.6" x2="0" y2="214" stroke="#8a8a8a" stroke-width="0.9"/>
<path d="M0 241C-0.42 251.6 -1.4 256.9 -1.12 267.5" fill="none" stroke="#5a5ac8" stroke-width="1.3"/>
<line x1="-4.35" y1="239.1" x2="-6.67" y2="243.16" stroke="#9c9c9c" stroke-width="1.3"/>
<line x1="4.35" y1="239.1" x2="6.67" y2="243.16" stroke="#9c9c9c" stroke-width="1.3"/>
<g clip-path="url(#ck8)">
<use href="#bk8" fill="url(#wg)"/>
<g filter="url(#ds3)"><ellipse cx="0" cy="228.08" rx="5.51" ry="14.5" fill="#3030e8"/><ellipse cx="2.9" cy="237.65" rx="2.9" ry="3.48" fill="#9080f0" opacity="0.7"/></g>
<g filter="url(#ds3)">
<ellipse cx="0" cy="217.35" rx="2.4" ry="3.24" fill="#48d4ec"/>
<ellipse cx="0" cy="227.5" rx="2" ry="2.7" fill="#48d4ec"/>
</g>
<use href="#bk8" fill="none" stroke="#b8a8f8" stroke-width="1.6" filter="url(#bl1)"/>
</g></g>
<defs><path id="bk9" d="M1.04 213C1.55 213.29 1.7 214.11 1.97 214.74C2.24 215.37 2.5 216.09 2.67 216.77C2.83 217.45 2.83 218.12 2.96 218.8C3.08 219.48 3.17 220.11 3.42 220.83C3.67 221.56 4.16 222.28 4.47 223.15C4.78 224.02 5.07 225.04 5.28 226.05C5.48 227.06 5.6 227.65 5.68 229.24C5.77 230.84 5.82 234.07 5.8 235.62C5.78 237.17 5.71 237.7 5.57 238.52C5.42 239.34 5.33 239.97 4.93 240.55C4.53 241.13 4.54 241.76 3.19 242C1.84 242.24 -1.84 242.24 -3.19 242C-4.54 241.76 -4.53 241.13 -4.93 240.55C-5.33 239.97 -5.42 239.34 -5.57 238.52C-5.71 237.7 -5.78 237.17 -5.8 235.62C-5.82 234.07 -5.77 230.84 -5.68 229.24C-5.6 227.65 -5.48 227.06 -5.28 226.05C-5.07 225.04 -4.78 224.02 -4.47 223.15C-4.16 222.28 -3.67 221.56 -3.42 220.83C-3.17 220.11 -3.08 219.48 -2.96 218.8C-2.83 218.12 -2.83 217.45 -2.67 216.77C-2.5 216.09 -2.24 215.37 -1.97 214.74C-1.7 214.11 -1.55 213.29 -1.04 213C-0.54 212.71 0.54 212.71 1.04 213Z"/><clipPath id="ck9"><use href="#bk9"/></clipPath></defs>
<g transform="translate(267.8 0)">
<line x1="0" y1="210.6" x2="0" y2="214" stroke="#8a8a8a" stroke-width="0.9"/>
<path d="M0 241C0.48 251.6 1.6 256.9 1.28 267.5" fill="none" stroke="#a8a8a8" stroke-width="1.3"/>
<line x1="-4.35" y1="239.1" x2="-6.67" y2="243.16" stroke="#9c9c9c" stroke-width="1.3"/>
<line x1="4.35" y1="239.1" x2="6.67" y2="243.16" stroke="#9c9c9c" stroke-width="1.3"/>
<g clip-path="url(#ck9)">
<use href="#bk9" fill="url(#wg)"/>
<use href="#bk9" fill="#b0a0f8" opacity="0.45"/>
<g filter="url(#ds0)">
</g>
</g></g>
<g transform="translate(281.2 0)">
<line x1="0" y1="210.6" x2="0" y2="214" stroke="#8a8a8a" stroke-width="0.9"/>
<path d="M0 241C-0.15 251.6 -0.5 256.9 -0.4 267.5" fill="none" stroke="#80c0d0" stroke-width="1.3"/>
<line x1="-4.35" y1="239.1" x2="-6.67" y2="243.16" stroke="#9c9c9c" stroke-width="1.3"/>
<line x1="4.35" y1="239.1" x2="6.67" y2="243.16" stroke="#9c9c9c" stroke-width="1.3"/>
<use href="#bk8" fill="#3030e0" stroke="#3030e0" stroke-width="1.6" filter="url(#bl2)" opacity="0.9"/>
<g clip-path="url(#ck8)">
<use href="#bk8" fill="url(#wg)"/>
<g filter="url(#ds1)"><ellipse cx="0" cy="228.08" rx="5.51" ry="14.5" fill="#3030e8"/><ellipse cx="2.9" cy="237.65" rx="2.9" ry="3.48" fill="#9080f0" opacity="0.7"/></g>
<g filter="url(#ds1)">
<use href="#bk8" fill="#2a34ec" transform="translate(0 228.95) scale(1) translate(0 -228.95)"/>
<use href="#bk8" fill="#48d4ec" transform="translate(0 228.95) scale(0.87) translate(0 -228.95)"/>
<use href="#bk8" fill="#62e05a" transform="translate(0 228.95) scale(0.74) translate(0 -228.95)"/>
<use href="#bk8" fill="#ecec48" transform="translate(0 228.95) scale(0.61) translate(0 -228.95)"/>
<ellipse cx="-2.03" cy="217.64" rx="1.7" ry="2.29" fill="#ec3016"/>
<ellipse cx="2.03" cy="217.64" rx="1.7" ry="2.29" fill="#ec3016"/>
<ellipse cx="0" cy="229.82" rx="3.4" ry="4.59" fill="#ec3016"/>
</g>
</g></g>
<g transform="translate(295.2 0)">
<line x1="0" y1="210.6" x2="0" y2="214" stroke="#8a8a8a" stroke-width="0.9"/>
<path d="M0 241C0.27 251.6 0.9 256.9 0.72 267.5" fill="none" stroke="#5a5ac8" stroke-width="1.3"/>
<line x1="-4.35" y1="239.1" x2="-6.67" y2="243.16" stroke="#9c9c9c" stroke-width="1.3"/>
<line x1="4.35" y1="239.1" x2="6.67" y2="243.16" stroke="#9c9c9c" stroke-width="1.3"/>
<g clip-path="url(#ck8)">
<use href="#bk8" fill="url(#wg)"/>
<g filter="url(#ds2)"><ellipse cx="0" cy="228.08" rx="5.51" ry="14.5" fill="#3030e8"/><ellipse cx="2.9" cy="237.65" rx="2.9" ry="3.48" fill="#9080f0" opacity="0.7"/></g>
<g filter="url(#ds2)">
<ellipse cx="0" cy="218.8" rx="3" ry="4.05" fill="#2a34ec"/>
<ellipse cx="0" cy="218.8" rx="2.43" ry="3.28" fill="#48d4ec"/>
<ellipse cx="0" cy="218.8" rx="1.86" ry="2.51" fill="#62e05a"/>
<ellipse cx="0" cy="218.8" rx="1.29" ry="1.74" fill="#ecec48"/>
<ellipse cx="0" cy="218.8" rx="0.72" ry="0.97" fill="#ec3016"/>
<ellipse cx="0" cy="230.4" rx="2.6" ry="3.51" fill="#48d4ec"/>
</g>
<use href="#bk8" fill="none" stroke="#b8a8f8" stroke-width="1.6" filter="url(#bl1)"/>
</g></g>
<g transform="translate(308.7 0)">
<line x1="0" y1="210.6" x2="0" y2="214" stroke="#8a8a8a" stroke-width="0.9"/>
<path d="M0 241C0.36 251.6 1.2 256.9 0.96 267.5" fill="none" stroke="#5a5ac8" stroke-width="1.3"/>
<line x1="-4.35" y1="239.1" x2="-6.67" y2="243.16" stroke="#9c9c9c" stroke-width="1.3"/>
<line x1="4.35" y1="239.1" x2="6.67" y2="243.16" stroke="#9c9c9c" stroke-width="1.3"/>
<g clip-path="url(#ck8)">
<use href="#bk8" fill="url(#wg)"/>
<g filter="url(#ds3)"><ellipse cx="0" cy="228.08" rx="5.51" ry="14.5" fill="#3030e8"/><ellipse cx="2.9" cy="237.65" rx="2.9" ry="3.48" fill="#9080f0" opacity="0.7"/></g>
<g filter="url(#ds3)">
<ellipse cx="0" cy="218.8" rx="2.8" ry="3.78" fill="#2a34ec"/>
<ellipse cx="0" cy="218.8" rx="2.27" ry="3.06" fill="#48d4ec"/>
<ellipse cx="0" cy="218.8" rx="1.74" ry="2.34" fill="#62e05a"/>
<ellipse cx="0" cy="218.8" rx="1.2" ry="1.63" fill="#ecec48"/>
<ellipse cx="0" cy="218.8" rx="0.67" ry="0.91" fill="#ec3016"/>
<ellipse cx="0" cy="228.95" rx="2.6" ry="3.51" fill="#2a34ec"/>
<ellipse cx="0" cy="228.95" rx="2.11" ry="2.84" fill="#48d4ec"/>
<ellipse cx="0" cy="228.95" rx="1.61" ry="2.18" fill="#62e05a"/>
</g>
<use href="#bk8" fill="none" stroke="#b8a8f8" stroke-width="1.6" filter="url(#bl1)"/>
</g></g>
</svg>
<rect x="319.9" y="210.6" width="68.9" height="56.9" fill="#2c2c2c"/>
<rect x="319.9" y="210.6" width="68.9" height="29.9" fill="#171717" filter="url(#bl1)"/>
<svg x="319.9" y="210.6" width="68.9" height="56.9" viewBox="319.9 210.6 68.9 56.9" overflow="hidden">
<g transform="translate(326.4 0)">
<line x1="0" y1="210.6" x2="0" y2="214" stroke="#8a8a8a" stroke-width="0.9"/>
<path d="M0 241C-0.3 251.6 -1 256.9 -0.8 267.5" fill="none" stroke="#6a6ad0" stroke-width="1.3"/>
<line x1="-4.35" y1="239.1" x2="-6.67" y2="243.16" stroke="#9c9c9c" stroke-width="1.3"/>
<line x1="4.35" y1="239.1" x2="6.67" y2="243.16" stroke="#9c9c9c" stroke-width="1.3"/>
<g clip-path="url(#ck8)">
<use href="#bk8" fill="url(#wg)"/>
<g filter="url(#ds0)"><ellipse cx="0" cy="228.08" rx="5.51" ry="14.5" fill="#3030e8"/><ellipse cx="2.9" cy="237.65" rx="2.9" ry="3.48" fill="#9080f0" opacity="0.7"/></g>
<g filter="url(#ds0)">
<ellipse cx="0" cy="228.95" rx="2.4" ry="3.24" fill="#2a34ec"/>
<ellipse cx="0" cy="228.95" rx="1.94" ry="2.62" fill="#48d4ec"/>
<ellipse cx="0" cy="228.95" rx="1.49" ry="2.01" fill="#62e05a"/>
<ellipse cx="0" cy="218.8" rx="2" ry="2.7" fill="#48d4ec"/>
</g>
<use href="#bk8" fill="none" stroke="#b8a8f8" stroke-width="1.6" filter="url(#bl1)"/>
</g></g>
<g transform="translate(339.4 0)">
<line x1="0" y1="210.6" x2="0" y2="214" stroke="#8a8a8a" stroke-width="0.9"/>
<path d="M0 241C0.18 251.6 0.6 256.9 0.48 267.5" fill="none" stroke="#6a6ad0" stroke-width="1.3"/>
<line x1="-4.35" y1="239.1" x2="-6.67" y2="243.16" stroke="#9c9c9c" stroke-width="1.3"/>
<line x1="4.35" y1="239.1" x2="6.67" y2="243.16" stroke="#9c9c9c" stroke-width="1.3"/>
<g clip-path="url(#ck8)">
<use href="#bk8" fill="url(#wg)"/>
<g filter="url(#ds1)"><ellipse cx="0" cy="228.08" rx="5.51" ry="14.5" fill="#3030e8"/><ellipse cx="2.9" cy="237.65" rx="2.9" ry="3.48" fill="#9080f0" opacity="0.7"/></g>
<g filter="url(#ds1)">
<ellipse cx="0" cy="228.95" rx="2.6" ry="3.51" fill="#2a34ec"/>
<ellipse cx="0" cy="228.95" rx="2.11" ry="2.84" fill="#48d4ec"/>
<ellipse cx="0" cy="228.95" rx="1.61" ry="2.18" fill="#62e05a"/>
<ellipse cx="0" cy="218.8" rx="2" ry="2.7" fill="#48d4ec"/>
</g>
<use href="#bk8" fill="none" stroke="#b8a8f8" stroke-width="1.6" filter="url(#bl1)"/>
</g></g>
<g transform="translate(353.1 0)">
<line x1="0" y1="210.6" x2="0" y2="214" stroke="#8a8a8a" stroke-width="0.9"/>
<path d="M0 241C-0.42 251.6 -1.4 256.9 -1.12 267.5" fill="none" stroke="#80a0e0" stroke-width="1.3"/>
<line x1="-4.35" y1="239.1" x2="-6.67" y2="243.16" stroke="#9c9c9c" stroke-width="1.3"/>
<line x1="4.35" y1="239.1" x2="6.67" y2="243.16" stroke="#9c9c9c" stroke-width="1.3"/>
<use href="#bk8" fill="#3030e0" stroke="#3030e0" stroke-width="1.6" filter="url(#bl2)" opacity="0.9"/>
<g clip-path="url(#ck8)">
<use href="#bk8" fill="url(#wg)"/>
<g filter="url(#ds2)"><ellipse cx="0" cy="228.08" rx="5.51" ry="14.5" fill="#3030e8"/><ellipse cx="2.9" cy="237.65" rx="2.9" ry="3.48" fill="#9080f0" opacity="0.7"/></g>
<g filter="url(#ds2)">
<use href="#bk8" fill="#2a34ec" transform="translate(0 228.95) scale(1) translate(0 -228.95)"/>
<use href="#bk8" fill="#48d4ec" transform="translate(0 228.95) scale(0.87) translate(0 -228.95)"/>
<use href="#bk8" fill="#62e05a" transform="translate(0 228.95) scale(0.74) translate(0 -228.95)"/>
<use href="#bk8" fill="#ecec48" transform="translate(0 228.95) scale(0.61) translate(0 -228.95)"/>
<ellipse cx="-0.58" cy="228.08" rx="3.4" ry="4.59" fill="#ec3016"/>
<ellipse cx="0" cy="216.48" rx="1.8" ry="2.43" fill="#ec3016"/>
</g>
</g></g>
<g transform="translate(366.8 0)">
<line x1="0" y1="210.6" x2="0" y2="214" stroke="#8a8a8a" stroke-width="0.9"/>
<path d="M0 241C0.48 251.6 1.6 256.9 1.28 267.5" fill="none" stroke="#6a6ad0" stroke-width="1.3"/>
<line x1="-4.35" y1="239.1" x2="-6.67" y2="243.16" stroke="#9c9c9c" stroke-width="1.3"/>
<line x1="4.35" y1="239.1" x2="6.67" y2="243.16" stroke="#9c9c9c" stroke-width="1.3"/>
<g clip-path="url(#ck8)">
<use href="#bk8" fill="url(#wg)"/>
<g filter="url(#ds3)"><ellipse cx="0" cy="228.08" rx="5.51" ry="14.5" fill="#3030e8"/><ellipse cx="2.9" cy="237.65" rx="2.9" ry="3.48" fill="#9080f0" opacity="0.7"/></g>
<g filter="url(#ds3)">
<ellipse cx="0" cy="228.95" rx="2.8" ry="3.78" fill="#2a34ec"/>
<ellipse cx="0" cy="228.95" rx="2.27" ry="3.06" fill="#48d4ec"/>
<ellipse cx="0" cy="228.95" rx="1.74" ry="2.34" fill="#62e05a"/>
<ellipse cx="0" cy="218.8" rx="2" ry="2.7" fill="#48d4ec"/>
</g>
<use href="#bk8" fill="none" stroke="#b8a8f8" stroke-width="1.6" filter="url(#bl1)"/>
</g></g>
<g transform="translate(379.8 0)">
<line x1="0" y1="210.6" x2="0" y2="214" stroke="#8a8a8a" stroke-width="0.9"/>
<path d="M0 241C-0.15 251.6 -0.5 256.9 -0.4 267.5" fill="none" stroke="#c090a0" stroke-width="1.3"/>
<line x1="-4.35" y1="239.1" x2="-6.67" y2="243.16" stroke="#9c9c9c" stroke-width="1.3"/>
<line x1="4.35" y1="239.1" x2="6.67" y2="243.16" stroke="#9c9c9c" stroke-width="1.3"/>
<use href="#bk8" fill="#3030e0" stroke="#3030e0" stroke-width="1.6" filter="url(#bl2)" opacity="0.9"/>
<g clip-path="url(#ck8)">
<use href="#bk8" fill="url(#wg)"/>
<g filter="url(#ds0)"><ellipse cx="0" cy="228.08" rx="5.51" ry="14.5" fill="#3030e8"/><ellipse cx="2.9" cy="237.65" rx="2.9" ry="3.48" fill="#9080f0" opacity="0.7"/></g>
<g filter="url(#ds0)">
<use href="#bk8" fill="#2a34ec" transform="translate(0 228.95) scale(1) translate(0 -228.95)"/>
<use href="#bk8" fill="#48d4ec" transform="translate(0 228.95) scale(0.87) translate(0 -228.95)"/>
<use href="#bk8" fill="#62e05a" transform="translate(0 228.95) scale(0.74) translate(0 -228.95)"/>
<use href="#bk8" fill="#ecec48" transform="translate(0 228.95) scale(0.61) translate(0 -228.95)"/>
<ellipse cx="0.29" cy="228.08" rx="4.2" ry="5.67" fill="#ec3016"/>
<ellipse cx="0" cy="216.48" rx="1.8" ry="2.43" fill="#ec3016"/>
</g>
</g></g>
</svg>
<rect x="393.7" y="210.6" width="70.3" height="56.9" fill="#2c2c2c"/>
<rect x="393.7" y="210.6" width="70.3" height="29.9" fill="#171717" filter="url(#bl1)"/>
<svg x="393.7" y="210.6" width="70.3" height="56.9" viewBox="393.7 210.6 70.3 56.9" overflow="hidden">
<g transform="translate(401.8 0)">
<line x1="0" y1="210.6" x2="0" y2="214" stroke="#8a8a8a" stroke-width="0.9"/>
<path d="M0 241C0.27 251.6 0.9 256.9 0.72 267.5" fill="none" stroke="#a8a8a8" stroke-width="1.3"/>
<line x1="-4.35" y1="239.1" x2="-6.67" y2="243.16" stroke="#9c9c9c" stroke-width="1.3"/>
<line x1="4.35" y1="239.1" x2="6.67" y2="243.16" stroke="#9c9c9c" stroke-width="1.3"/>
<g clip-path="url(#ck9)">
<use href="#bk9" fill="url(#wg)"/>
<use href="#bk9" fill="#b0a0f8" opacity="0.45"/>
<g filter="url(#ds1)">
<ellipse cx="0" cy="218.8" rx="2.6" ry="3.51" fill="#2a34ec"/>
<ellipse cx="0" cy="228.95" rx="2.2" ry="2.97" fill="#2a34ec"/>
<ellipse cx="0" cy="228.95" rx="1" ry="1.35" fill="#c9c2f2"/>
</g>
</g></g>
<g transform="translate(415.5 0)">
<line x1="0" y1="210.6" x2="0" y2="214" stroke="#8a8a8a" stroke-width="0.9"/>
<path d="M0 241C0.36 251.6 1.2 256.9 0.96 267.5" fill="none" stroke="#a8a8a8" stroke-width="1.3"/>
<line x1="-4.35" y1="239.1" x2="-6.67" y2="243.16" stroke="#9c9c9c" stroke-width="1.3"/>
<line x1="4.35" y1="239.1" x2="6.67" y2="243.16" stroke="#9c9c9c" stroke-width="1.3"/>
<g clip-path="url(#ck9)">
<use href="#bk9" fill="url(#wg)"/>
<g filter="url(#ds2)">
<ellipse cx="0" cy="218.8" rx="2.6" ry="3.51" fill="#8a70f0"/>
</g>
</g></g>
<g transform="translate(429.2 0)">
<line x1="0" y1="210.6" x2="0" y2="214" stroke="#8a8a8a" stroke-width="0.9"/>
<path d="M0 241C-0.3 251.6 -1 256.9 -0.8 267.5" fill="none" stroke="#a8a8a8" stroke-width="1.3"/>
<line x1="-4.35" y1="239.1" x2="-6.67" y2="243.16" stroke="#9c9c9c" stroke-width="1.3"/>
<line x1="4.35" y1="239.1" x2="6.67" y2="243.16" stroke="#9c9c9c" stroke-width="1.3"/>
<g clip-path="url(#ck9)">
<use href="#bk9" fill="url(#wg)"/>
<g filter="url(#ds3)">
<ellipse cx="0" cy="218.8" rx="2.8" ry="3.78" fill="#8a70f0"/>
</g>
</g></g>
<g transform="translate(442.2 0)">
<line x1="0" y1="210.6" x2="0" y2="214" stroke="#8a8a8a" stroke-width="0.9"/>
<path d="M0 241C0.18 251.6 0.6 256.9 0.48 267.5" fill="none" stroke="#a8a8a8" stroke-width="1.3"/>
<line x1="-4.35" y1="239.1" x2="-6.67" y2="243.16" stroke="#9c9c9c" stroke-width="1.3"/>
<line x1="4.35" y1="239.1" x2="6.67" y2="243.16" stroke="#9c9c9c" stroke-width="1.3"/>
<g clip-path="url(#ck9)">
<use href="#bk9" fill="url(#wg)"/>
<g filter="url(#ds0)">
<ellipse cx="0" cy="218.22" rx="2.2" ry="2.97" fill="#c9c2f2"/>
</g>
</g></g>
<g transform="translate(455.9 0)">
<line x1="0" y1="210.6" x2="0" y2="214" stroke="#8a8a8a" stroke-width="0.9"/>
<path d="M0 241C-0.42 251.6 -1.4 256.9 -1.12 267.5" fill="none" stroke="#a8a8a8" stroke-width="1.3"/>
<line x1="-4.35" y1="239.1" x2="-6.67" y2="243.16" stroke="#9c9c9c" stroke-width="1.3"/>
<line x1="4.35" y1="239.1" x2="6.67" y2="243.16" stroke="#9c9c9c" stroke-width="1.3"/>
<g clip-path="url(#ck9)">
<use href="#bk9" fill="url(#wg)"/>
<g filter="url(#ds1)">
<ellipse cx="0" cy="218.22" rx="2.2" ry="2.97" fill="#c9c2f2"/>
</g>
</g></g>
</svg>
<rect x="246.2" y="272.2" width="69.7" height="60.4" fill="#2c2c2c"/>
<rect x="246.2" y="272.2" width="69.7" height="30.8" fill="#171717" filter="url(#bl1)"/>
<svg x="246.2" y="272.2" width="69.7" height="60.4" viewBox="246.2 272.2 69.7 60.4" overflow="hidden">
<defs><path id="bk10" d="M1.45 275.5C2.17 275.79 2.5 276.56 2.9 277.24C3.3 277.92 3.62 278.79 3.83 279.56C4.04 280.33 4.04 281.11 4.18 281.88C4.31 282.65 4.44 283.33 4.64 284.2C4.84 285.07 5.2 286.04 5.39 287.1C5.59 288.16 5.73 288.74 5.8 290.58C5.87 292.42 5.84 296.38 5.8 298.12C5.76 299.86 5.66 300.2 5.57 301.02C5.47 301.84 5.57 302.47 5.22 303.05C4.87 303.63 4.93 304.26 3.48 304.5C2.03 304.74 -2.03 304.74 -3.48 304.5C-4.93 304.26 -4.87 303.63 -5.22 303.05C-5.57 302.47 -5.47 301.84 -5.57 301.02C-5.66 300.2 -5.76 299.86 -5.8 298.12C-5.84 296.38 -5.87 292.42 -5.8 290.58C-5.73 288.74 -5.59 288.16 -5.39 287.1C-5.2 286.04 -4.84 285.07 -4.64 284.2C-4.44 283.33 -4.31 282.65 -4.18 281.88C-4.04 281.11 -4.04 280.33 -3.83 279.56C-3.62 278.79 -3.3 277.92 -2.9 277.24C-2.5 276.56 -2.17 275.79 -1.45 275.5C-0.72 275.21 0.72 275.21 1.45 275.5Z"/><clipPath id="ck10"><use href="#bk10"/></clipPath></defs>
<g transform="translate(253 0)">
<line x1="0" y1="272.2" x2="0" y2="276.5" stroke="#8a8a8a" stroke-width="0.9"/>
<path d="M0 303.5C0.48 315.14 1.6 320.96 1.28 332.6" fill="none" stroke="#2a2ae0" stroke-width="2"/>
<line x1="-4.35" y1="301.6" x2="-6.67" y2="305.66" stroke="#9c9c9c" stroke-width="1.3"/>
<line x1="4.35" y1="301.6" x2="6.67" y2="305.66" stroke="#9c9c9c" stroke-width="1.3"/>
<g clip-path="url(#ck10)">
<use href="#bk10" fill="url(#wg)"/>
<g filter="url(#ds2)"><ellipse cx="0" cy="290.58" rx="5.51" ry="14.5" fill="#3030e8"/><ellipse cx="2.9" cy="300.15" rx="2.9" ry="3.48" fill="#9080f0" opacity="0.7"/></g>
<g filter="url(#ds2)">
<ellipse cx="0" cy="284.2" rx="3" ry="4.05" fill="#2a34ec"/>
<ellipse cx="0" cy="284.2" rx="2.43" ry="3.28" fill="#48d4ec"/>
<ellipse cx="0" cy="284.2" rx="1.86" ry="2.51" fill="#62e05a"/>
<ellipse cx="0" cy="284.2" rx="1.29" ry="1.74" fill="#ecec48"/>
<ellipse cx="0" cy="293.48" rx="2.4" ry="3.24" fill="#2a34ec"/>
<ellipse cx="0" cy="293.48" rx="1.94" ry="2.62" fill="#48d4ec"/>
<ellipse cx="0" cy="293.48" rx="1.49" ry="2.01" fill="#62e05a"/>
<ellipse cx="0" cy="278.4" rx="1.6" ry="2.16" fill="#ecec48"/>
</g>
<use href="#bk10" fill="none" stroke="#b8a8f8" stroke-width="1.6" filter="url(#bl1)"/>
</g></g>
<defs><path id="bk11" d="M1.04 275.5C1.55 275.79 1.7 276.61 1.97 277.24C2.24 277.87 2.5 278.59 2.67 279.27C2.83 279.95 2.83 280.62 2.96 281.3C3.08 281.98 3.17 282.61 3.42 283.33C3.67 284.05 4.16 284.78 4.47 285.65C4.78 286.52 5.07 287.54 5.28 288.55C5.48 289.56 5.6 290.14 5.68 291.74C5.77 293.34 5.82 296.57 5.8 298.12C5.78 299.67 5.71 300.2 5.57 301.02C5.42 301.84 5.33 302.47 4.93 303.05C4.53 303.63 4.54 304.26 3.19 304.5C1.84 304.74 -1.84 304.74 -3.19 304.5C-4.54 304.26 -4.53 303.63 -4.93 303.05C-5.33 302.47 -5.42 301.84 -5.57 301.02C-5.71 300.2 -5.78 299.67 -5.8 298.12C-5.82 296.57 -5.77 293.34 -5.68 291.74C-5.6 290.14 -5.48 289.56 -5.28 288.55C-5.07 287.54 -4.78 286.52 -4.47 285.65C-4.16 284.78 -3.67 284.05 -3.42 283.33C-3.17 282.61 -3.08 281.98 -2.96 281.3C-2.83 280.62 -2.83 279.95 -2.67 279.27C-2.5 278.59 -2.24 277.87 -1.97 277.24C-1.7 276.61 -1.55 275.79 -1.04 275.5C-0.54 275.21 0.54 275.21 1.04 275.5Z"/><clipPath id="ck11"><use href="#bk11"/></clipPath></defs>
<g transform="translate(268.3 0)">
<line x1="0" y1="272.2" x2="0" y2="276.5" stroke="#8a8a8a" stroke-width="0.9"/>
<path d="M0 303.5C-0.15 315.14 -0.5 320.96 -0.4 332.6" fill="none" stroke="#a8a8a8" stroke-width="1.3"/>
<line x1="-4.35" y1="301.6" x2="-6.67" y2="305.66" stroke="#9c9c9c" stroke-width="1.3"/>
<line x1="4.35" y1="301.6" x2="6.67" y2="305.66" stroke="#9c9c9c" stroke-width="1.3"/>
<g clip-path="url(#ck11)">
<use href="#bk11" fill="url(#wg)"/>
<use href="#bk11" fill="#b0a0f8" opacity="0.45"/>
<g filter="url(#ds3)">
<ellipse cx="0" cy="287.1" rx="2" ry="2.7" fill="#8a70f0"/>
</g>
</g></g>
<g transform="translate(282.2 0)">
<line x1="0" y1="272.2" x2="0" y2="276.5" stroke="#8a8a8a" stroke-width="0.9"/>
<path d="M0 303.5C0.27 315.14 0.9 320.96 0.72 332.6" fill="none" stroke="#d04060" stroke-width="1.6"/>
<line x1="-4.35" y1="301.6" x2="-6.67" y2="305.66" stroke="#9c9c9c" stroke-width="1.3"/>
<line x1="4.35" y1="301.6" x2="6.67" y2="305.66" stroke="#9c9c9c" stroke-width="1.3"/>
<use href="#bk10" fill="#3838e0" stroke="#3838e0" stroke-width="1.6" filter="url(#bl2)" opacity="0.9"/>
<g clip-path="url(#ck10)">
<use href="#bk10" fill="#ec3016"/>
<g filter="url(#ds0)">
</g>
<use href="#bk10" fill="none" stroke="#e8e040" stroke-width="1.4" filter="url(#bl1)"/>
</g></g>
<g transform="translate(296.1 0)">
<line x1="0" y1="272.2" x2="0" y2="276.5" stroke="#8a8a8a" stroke-width="0.9"/>
<path d="M0 303.5C0.36 315.14 1.2 320.96 0.96 332.6" fill="none" stroke="#a8a8a8" stroke-width="1.3"/>
<line x1="-4.35" y1="301.6" x2="-6.67" y2="305.66" stroke="#9c9c9c" stroke-width="1.3"/>
<line x1="4.35" y1="301.6" x2="6.67" y2="305.66" stroke="#9c9c9c" stroke-width="1.3"/>
<g clip-path="url(#ck11)">
<use href="#bk11" fill="url(#wg)"/>
<g filter="url(#ds1)">
<ellipse cx="0" cy="284.2" rx="2.2" ry="2.97" fill="#c9c2f2"/>
</g>
</g></g>
<g transform="translate(309.4 0)">
<line x1="0" y1="272.2" x2="0" y2="276.5" stroke="#8a8a8a" stroke-width="0.9"/>
<path d="M0 303.5C-0.3 315.14 -1 320.96 -0.8 332.6" fill="none" stroke="#a8a8a8" stroke-width="1.3"/>
<line x1="-4.35" y1="301.6" x2="-6.67" y2="305.66" stroke="#9c9c9c" stroke-width="1.3"/>
<line x1="4.35" y1="301.6" x2="6.67" y2="305.66" stroke="#9c9c9c" stroke-width="1.3"/>
<use href="#bk10" fill="#3030e0" stroke="#3030e0" stroke-width="1.6" filter="url(#bl2)" opacity="0.9"/>
<g clip-path="url(#ck10)">
<use href="#bk10" fill="url(#wg)"/>
<g filter="url(#ds2)"><ellipse cx="0" cy="290.58" rx="5.51" ry="14.5" fill="#3030e8"/><ellipse cx="2.9" cy="300.15" rx="2.9" ry="3.48" fill="#9080f0" opacity="0.7"/></g>
<g filter="url(#ds2)">
<use href="#bk10" fill="#2a34ec" transform="translate(0 291.45) scale(1) translate(0 -291.45)"/>
<use href="#bk10" fill="#48d4ec" transform="translate(0 291.45) scale(0.87) translate(0 -291.45)"/>
<use href="#bk10" fill="#62e05a" transform="translate(0 291.45) scale(0.74) translate(0 -291.45)"/>
<use href="#bk10" fill="#ecec48" transform="translate(0 291.45) scale(0.61) translate(0 -291.45)"/>
<ellipse cx="0" cy="290" rx="2.6" ry="3.51" fill="#ec3016"/>
<ellipse cx="0" cy="279.56" rx="1.8" ry="2.43" fill="#ec3016"/>
<ellipse cx="2.9" cy="297.25" rx="1.6" ry="2.16" fill="#2a34ec"/>
</g>
</g></g>
</svg>
<g filter="url(#ds2)"><ellipse cx="250.2" cy="320" rx="3.2" ry="9" fill="#2a34e8" transform="rotate(12 250.2 320)"/><ellipse cx="251.2" cy="316" rx="1.2" ry="4" fill="#48c8e8" transform="rotate(12 251.2 316)"/></g>
<rect x="320.2" y="272.2" width="68.3" height="60.4" fill="#2c2c2c"/>
<rect x="320.2" y="272.2" width="68.3" height="30.8" fill="#171717" filter="url(#bl1)"/>
<svg x="320.2" y="272.2" width="68.3" height="60.4" viewBox="320.2 272.2 68.3 60.4" overflow="hidden">
<g transform="translate(327.1 0)">
<line x1="0" y1="272.2" x2="0" y2="276.5" stroke="#8a8a8a" stroke-width="0.9"/>
<path d="M0 303.5C0.18 315.14 0.6 320.96 0.48 332.6" fill="none" stroke="#a8a8a8" stroke-width="1.3"/>
<line x1="-4.35" y1="301.6" x2="-6.67" y2="305.66" stroke="#9c9c9c" stroke-width="1.3"/>
<line x1="4.35" y1="301.6" x2="6.67" y2="305.66" stroke="#9c9c9c" stroke-width="1.3"/>
<g clip-path="url(#ck10)">
<use href="#bk10" fill="url(#wg)"/>
<g filter="url(#ds3)"><ellipse cx="0" cy="290.58" rx="5.51" ry="14.5" fill="#3030e8"/><ellipse cx="2.9" cy="300.15" rx="2.9" ry="3.48" fill="#9080f0" opacity="0.7"/></g>
<g filter="url(#ds3)">
<ellipse cx="0" cy="291.45" rx="2.2" ry="2.97" fill="#2a34ec"/>
<ellipse cx="0" cy="291.45" rx="1.78" ry="2.41" fill="#48d4ec"/>
<ellipse cx="0" cy="291.45" rx="1.36" ry="1.84" fill="#62e05a"/>
<ellipse cx="0" cy="291.45" rx="0.95" ry="1.28" fill="#ecec48"/>
<ellipse cx="0" cy="291.45" rx="0.53" ry="0.71" fill="#ec3016"/>
<ellipse cx="0" cy="279.85" rx="2" ry="2.7" fill="#62e05a"/>
</g>
<use href="#bk10" fill="none" stroke="#b8a8f8" stroke-width="1.6" filter="url(#bl1)"/>
</g></g>
<g transform="translate(340.8 0)">
<line x1="0" y1="272.2" x2="0" y2="276.5" stroke="#8a8a8a" stroke-width="0.9"/>
<path d="M0 303.5C-0.42 315.14 -1.4 320.96 -1.12 332.6" fill="none" stroke="#a8a8a8" stroke-width="1.3"/>
<line x1="-4.35" y1="301.6" x2="-6.67" y2="305.66" stroke="#9c9c9c" stroke-width="1.3"/>
<line x1="4.35" y1="301.6" x2="6.67" y2="305.66" stroke="#9c9c9c" stroke-width="1.3"/>
<g clip-path="url(#ck10)">
<use href="#bk10" fill="url(#wg)"/>
<g filter="url(#ds0)"><ellipse cx="0" cy="290.58" rx="5.51" ry="14.5" fill="#3030e8"/><ellipse cx="2.9" cy="300.15" rx="2.9" ry="3.48" fill="#9080f0" opacity="0.7"/></g>
<g filter="url(#ds0)">
<ellipse cx="0" cy="291.45" rx="1.6" ry="2.16" fill="#48d4ec"/>
<ellipse cx="0" cy="279.85" rx="2" ry="2.7" fill="#48d4ec"/>
</g>
<use href="#bk10" fill="none" stroke="#c0a0f0" stroke-width="1.6" filter="url(#bl1)"/>
</g></g>
<g transform="translate(354.5 0)">
<line x1="0" y1="272.2" x2="0" y2="276.5" stroke="#8a8a8a" stroke-width="0.9"/>
<path d="M0 303.5C0.48 315.14 1.6 320.96 1.28 332.6" fill="none" stroke="#c04068" stroke-width="1.6"/>
<line x1="-4.35" y1="301.6" x2="-6.67" y2="305.66" stroke="#9c9c9c" stroke-width="1.3"/>
<line x1="4.35" y1="301.6" x2="6.67" y2="305.66" stroke="#9c9c9c" stroke-width="1.3"/>
<use href="#bk10" fill="#3030e0" stroke="#3030e0" stroke-width="1.6" filter="url(#bl2)" opacity="0.9"/>
<g clip-path="url(#ck10)">
<use href="#bk10" fill="url(#wg)"/>
<g filter="url(#ds1)"><ellipse cx="0" cy="290.58" rx="5.51" ry="14.5" fill="#3030e8"/><ellipse cx="2.9" cy="300.15" rx="2.9" ry="3.48" fill="#9080f0" opacity="0.7"/></g>
<g filter="url(#ds1)">
<use href="#bk10" fill="#2a34ec" transform="translate(0 291.45) scale(1) translate(0 -291.45)"/>
<use href="#bk10" fill="#48d4ec" transform="translate(0 291.45) scale(0.87) translate(0 -291.45)"/>
<use href="#bk10" fill="#62e05a" transform="translate(0 291.45) scale(0.74) translate(0 -291.45)"/>
<use href="#bk10" fill="#ecec48" transform="translate(0 291.45) scale(0.61) translate(0 -291.45)"/>
<ellipse cx="0" cy="290" rx="3.8" ry="5.13" fill="#ec3016"/>
<ellipse cx="0" cy="278.98" rx="1.8" ry="2.43" fill="#ec3016"/>
</g>
</g></g>
<g transform="translate(368.2 0)">
<line x1="0" y1="272.2" x2="0" y2="276.5" stroke="#8a8a8a" stroke-width="0.9"/>
<path d="M0 303.5C-0.15 315.14 -0.5 320.96 -0.4 332.6" fill="none" stroke="#c04068" stroke-width="1.3"/>
<line x1="-4.35" y1="301.6" x2="-6.67" y2="305.66" stroke="#9c9c9c" stroke-width="1.3"/>
<line x1="4.35" y1="301.6" x2="6.67" y2="305.66" stroke="#9c9c9c" stroke-width="1.3"/>
<g clip-path="url(#ck10)">
<use href="#bk10" fill="url(#wg)"/>
<g filter="url(#ds2)"><ellipse cx="0" cy="290.58" rx="5.51" ry="14.5" fill="#3030e8"/><ellipse cx="2.9" cy="300.15" rx="2.9" ry="3.48" fill="#9080f0" opacity="0.7"/></g>
<g filter="url(#ds2)">
<ellipse cx="0" cy="291.45" rx="2.6" ry="3.51" fill="#2a34ec"/>
<ellipse cx="0" cy="291.45" rx="2.11" ry="2.84" fill="#48d4ec"/>
<ellipse cx="0" cy="291.45" rx="1.61" ry="2.18" fill="#62e05a"/>
<ellipse cx="0" cy="291.45" rx="1.12" ry="1.51" fill="#ecec48"/>
<ellipse cx="0" cy="279.85" rx="2" ry="2.7" fill="#62e05a"/>
</g>
<use href="#bk10" fill="none" stroke="#b8a8f8" stroke-width="1.6" filter="url(#bl1)"/>
</g></g>
<g transform="translate(381.2 0)">
<line x1="0" y1="272.2" x2="0" y2="276.5" stroke="#8a8a8a" stroke-width="0.9"/>
<path d="M0 303.5C0.27 315.14 0.9 320.96 0.72 332.6" fill="none" stroke="#c04068" stroke-width="1.6"/>
<line x1="-4.35" y1="301.6" x2="-6.67" y2="305.66" stroke="#9c9c9c" stroke-width="1.3"/>
<line x1="4.35" y1="301.6" x2="6.67" y2="305.66" stroke="#9c9c9c" stroke-width="1.3"/>
<use href="#bk10" fill="#3030e0" stroke="#3030e0" stroke-width="1.6" filter="url(#bl2)" opacity="0.9"/>
<g clip-path="url(#ck10)">
<use href="#bk10" fill="url(#wg)"/>
<g filter="url(#ds3)"><ellipse cx="0" cy="290.58" rx="5.51" ry="14.5" fill="#3030e8"/><ellipse cx="2.9" cy="300.15" rx="2.9" ry="3.48" fill="#9080f0" opacity="0.7"/></g>
<g filter="url(#ds3)">
<use href="#bk10" fill="#2a34ec" transform="translate(0 291.45) scale(1) translate(0 -291.45)"/>
<use href="#bk10" fill="#48d4ec" transform="translate(0 291.45) scale(0.9) translate(0 -291.45)"/>
<use href="#bk10" fill="#62e05a" transform="translate(0 291.45) scale(0.8) translate(0 -291.45)"/>
<use href="#bk10" fill="#ecec48" transform="translate(0 291.45) scale(0.7) translate(0 -291.45)"/>
<ellipse cx="0" cy="290" rx="3.8" ry="5.13" fill="#ec3016"/>
<ellipse cx="0" cy="278.98" rx="2" ry="2.7" fill="#ec3016"/>
</g>
</g></g>
</svg>
<rect x="392.5" y="272.2" width="71.3" height="60.4" fill="#2c2c2c"/>
<rect x="392.5" y="272.2" width="71.3" height="30.8" fill="#171717" filter="url(#bl1)"/>
<svg x="392.5" y="272.2" width="71.3" height="60.4" viewBox="392.5 272.2 71.3 60.4" overflow="hidden">
<g transform="translate(401.8 0)">
<line x1="0" y1="272.2" x2="0" y2="276.5" stroke="#8a8a8a" stroke-width="0.9"/>
<path d="M0 303.5C0.36 315.14 1.2 320.96 0.96 332.6" fill="none" stroke="#3a70d0" stroke-width="2"/>
<line x1="-4.35" y1="301.6" x2="-6.67" y2="305.66" stroke="#9c9c9c" stroke-width="1.3"/>
<line x1="4.35" y1="301.6" x2="6.67" y2="305.66" stroke="#9c9c9c" stroke-width="1.3"/>
<g clip-path="url(#ck11)">
<use href="#bk11" fill="url(#wg)"/>
<use href="#bk11" fill="#b0a0f8" opacity="0.45"/>
<g filter="url(#ds0)">
<ellipse cx="0" cy="281.3" rx="3" ry="4.05" fill="#2a34ec"/>
<ellipse cx="0" cy="292.9" rx="2.6" ry="3.51" fill="#2a34ec"/>
</g>
</g></g>
<g transform="translate(415.5 0)">
<line x1="0" y1="272.2" x2="0" y2="276.5" stroke="#8a8a8a" stroke-width="0.9"/>
<path d="M0 303.5C-0.3 315.14 -1 320.96 -0.8 332.6" fill="none" stroke="#3a70d0" stroke-width="2"/>
<line x1="-4.35" y1="301.6" x2="-6.67" y2="305.66" stroke="#9c9c9c" stroke-width="1.3"/>
<line x1="4.35" y1="301.6" x2="6.67" y2="305.66" stroke="#9c9c9c" stroke-width="1.3"/>
<g clip-path="url(#ck11)">
<use href="#bk11" fill="url(#wg)"/>
<g filter="url(#ds1)">
<ellipse cx="0" cy="281.3" rx="3" ry="4.05" fill="#8a70f0"/>
</g>
</g></g>
<g transform="translate(428.8 0)">
<line x1="0" y1="272.2" x2="0" y2="276.5" stroke="#8a8a8a" stroke-width="0.9"/>
<path d="M0 303.5C0.18 315.14 0.6 320.96 0.48 332.6" fill="none" stroke="#5050c8" stroke-width="1.3"/>
<line x1="-4.35" y1="301.6" x2="-6.67" y2="305.66" stroke="#9c9c9c" stroke-width="1.3"/>
<line x1="4.35" y1="301.6" x2="6.67" y2="305.66" stroke="#9c9c9c" stroke-width="1.3"/>
<g clip-path="url(#ck11)">
<use href="#bk11" fill="url(#wg)"/>
<g filter="url(#ds2)">
<ellipse cx="0" cy="281.3" rx="3" ry="4.05" fill="#8a70f0"/>
</g>
</g></g>
<g transform="translate(442.2 0)">
<line x1="0" y1="272.2" x2="0" y2="276.5" stroke="#8a8a8a" stroke-width="0.9"/>
<path d="M0 303.5C-0.42 315.14 -1.4 320.96 -1.12 332.6" fill="none" stroke="#8080a0" stroke-width="1.3"/>
<line x1="-4.35" y1="301.6" x2="-6.67" y2="305.66" stroke="#9c9c9c" stroke-width="1.3"/>
<line x1="4.35" y1="301.6" x2="6.67" y2="305.66" stroke="#9c9c9c" stroke-width="1.3"/>
<g clip-path="url(#ck11)">
<use href="#bk11" fill="url(#wg)"/>
<g filter="url(#ds3)">
<ellipse cx="0" cy="281.3" rx="2.6" ry="3.51" fill="#c9c2f2"/>
</g>
</g></g>
<g transform="translate(455.9 0)">
<line x1="0" y1="272.2" x2="0" y2="276.5" stroke="#8a8a8a" stroke-width="0.9"/>
<path d="M0 303.5C0.48 315.14 1.6 320.96 1.28 332.6" fill="none" stroke="#8080a0" stroke-width="1.3"/>
<line x1="-4.35" y1="301.6" x2="-6.67" y2="305.66" stroke="#9c9c9c" stroke-width="1.3"/>
<line x1="4.35" y1="301.6" x2="6.67" y2="305.66" stroke="#9c9c9c" stroke-width="1.3"/>
<g clip-path="url(#ck11)">
<use href="#bk11" fill="url(#wg)"/>
<g filter="url(#ds0)">
<ellipse cx="0" cy="281.3" rx="2.6" ry="3.51" fill="#c9c2f2"/>
</g>
</g></g>
</svg>
<rect x="244.9" y="336.6" width="19.5" height="63.2" fill="#2c2c2c"/>
<rect x="244.9" y="336.6" width="19.5" height="31.4" fill="#171717" filter="url(#bl1)"/>
<svg x="244.9" y="336.6" width="19.5" height="63.2" viewBox="244.9 336.6 19.5 63.2" overflow="hidden">
<defs><path id="bk12" d="M1.55 340C2.33 340.3 2.68 341.08 3.1 341.77C3.52 342.46 3.86 343.34 4.09 344.13C4.32 344.92 4.32 345.7 4.46 346.49C4.61 347.28 4.74 347.97 4.96 348.85C5.18 349.74 5.56 350.72 5.77 351.8C5.97 352.88 6.13 353.47 6.2 355.34C6.27 357.21 6.24 361.24 6.2 363.01C6.16 364.78 6.06 365.12 5.95 365.96C5.85 366.8 5.95 367.43 5.58 368.02C5.21 368.62 5.27 369.25 3.72 369.5C2.17 369.75 -2.17 369.75 -3.72 369.5C-5.27 369.25 -5.21 368.62 -5.58 368.02C-5.95 367.43 -5.85 366.8 -5.95 365.96C-6.06 365.12 -6.16 364.78 -6.2 363.01C-6.24 361.24 -6.27 357.21 -6.2 355.34C-6.13 353.47 -5.97 352.88 -5.77 351.8C-5.56 350.72 -5.18 349.74 -4.96 348.85C-4.74 347.97 -4.61 347.28 -4.46 346.49C-4.32 345.7 -4.32 344.92 -4.09 344.13C-3.86 343.34 -3.52 342.46 -3.1 341.77C-2.68 341.08 -2.33 340.3 -1.55 340C-0.78 339.7 0.78 339.7 1.55 340Z"/><clipPath id="ck12"><use href="#bk12"/></clipPath></defs>
<g transform="translate(256.6 0)">
<line x1="0" y1="336.6" x2="0" y2="341" stroke="#8a8a8a" stroke-width="0.9"/>
<path d="M0 368.5C-0.15 381.02 -0.5 387.28 -0.4 399.8" fill="none" stroke="#c0b070" stroke-width="1.3"/>
<line x1="-4.65" y1="366.55" x2="-7.13" y2="370.68" stroke="#9c9c9c" stroke-width="1.3"/>
<line x1="4.65" y1="366.55" x2="7.13" y2="370.68" stroke="#9c9c9c" stroke-width="1.3"/>
<g clip-path="url(#ck12)">
<use href="#bk12" fill="url(#wg)"/>
<g filter="url(#ds1)"><ellipse cx="0" cy="355.34" rx="5.89" ry="14.75" fill="#3030e8"/><ellipse cx="3.1" cy="365.07" rx="3.1" ry="3.54" fill="#9080f0" opacity="0.7"/></g>
<g filter="url(#ds1)">
<ellipse cx="0" cy="345.9" rx="2.6" ry="3.51" fill="#2a34ec"/>
<ellipse cx="-1.24" cy="356.23" rx="1.8" ry="2.43" fill="#8a70f0"/>
<ellipse cx="1.86" cy="360.65" rx="1.6" ry="2.16" fill="#c9c2f2"/>
<ellipse cx="0" cy="365.96" rx="2.6" ry="3.51" fill="#c9c2f2"/>
<ellipse cx="-1.86" cy="350.32" rx="1" ry="1.35" fill="#c9c2f2"/>
</g>
<use href="#bk12" fill="none" stroke="#c8c0f0" stroke-width="1.6" filter="url(#bl1)"/>
</g></g>
</svg>
<g filter="url(#ds1)"><ellipse cx="253.2" cy="385.5" rx="3.4" ry="7.2" fill="#2a34e8" transform="rotate(28 253.2 385.5)"/><ellipse cx="255.2" cy="381" rx="1.0" ry="4" fill="#8cc8f0" transform="rotate(28 255.2 381)"/></g>
<rect x="270.3" y="336.6" width="45.5" height="63.2" fill="#2c2c2c"/>
<rect x="270.3" y="336.6" width="45.5" height="31.4" fill="#171717" filter="url(#bl1)"/>
<svg x="270.3" y="336.6" width="45.5" height="63.2" viewBox="270.3 336.6 45.5 63.2" overflow="hidden">
<g transform="translate(277.7 0)">
<line x1="0" y1="336.6" x2="0" y2="341" stroke="#8a8a8a" stroke-width="0.9"/>
<path d="M0 368.5C0.27 381.02 0.9 387.28 0.72 399.8" fill="none" stroke="#c0a0a0" stroke-width="1.3"/>
<line x1="-4.65" y1="366.55" x2="-7.13" y2="370.68" stroke="#9c9c9c" stroke-width="1.3"/>
<line x1="4.65" y1="366.55" x2="7.13" y2="370.68" stroke="#9c9c9c" stroke-width="1.3"/>
<g clip-path="url(#ck12)">
<use href="#bk12" fill="url(#wg)"/>
<g filter="url(#ds2)"><ellipse cx="0" cy="355.34" rx="5.89" ry="14.75" fill="#3030e8"/><ellipse cx="3.1" cy="365.07" rx="3.1" ry="3.54" fill="#9080f0" opacity="0.7"/></g>
<g filter="url(#ds2)">
<ellipse cx="0" cy="345.9" rx="2.6" ry="3.51" fill="#2a34ec"/>
<ellipse cx="-1.24" cy="356.23" rx="1.8" ry="2.43" fill="#8a70f0"/>
<ellipse cx="1.86" cy="360.65" rx="1.6" ry="2.16" fill="#c9c2f2"/>
<ellipse cx="0" cy="365.96" rx="2.6" ry="3.51" fill="#c9c2f2"/>
<ellipse cx="-1.86" cy="350.32" rx="1" ry="1.35" fill="#c9c2f2"/>
</g>
<use href="#bk12" fill="none" stroke="#c8c0f0" stroke-width="1.6" filter="url(#bl1)"/>
</g></g>
<g transform="translate(292.3 0)">
<line x1="0" y1="336.6" x2="0" y2="341" stroke="#8a8a8a" stroke-width="0.9"/>
<path d="M0 368.5C0.36 381.02 1.2 387.28 0.96 399.8" fill="none" stroke="#c0c0a0" stroke-width="1.3"/>
<line x1="-4.65" y1="366.55" x2="-7.13" y2="370.68" stroke="#9c9c9c" stroke-width="1.3"/>
<line x1="4.65" y1="366.55" x2="7.13" y2="370.68" stroke="#9c9c9c" stroke-width="1.3"/>
<g clip-path="url(#ck12)">
<use href="#bk12" fill="url(#wg)"/>
<g filter="url(#ds3)"><ellipse cx="0" cy="355.34" rx="5.89" ry="14.75" fill="#3030e8"/><ellipse cx="3.1" cy="365.07" rx="3.1" ry="3.54" fill="#9080f0" opacity="0.7"/></g>
<g filter="url(#ds3)">
<ellipse cx="0" cy="345.9" rx="2.6" ry="3.51" fill="#2a34ec"/>
<ellipse cx="-1.24" cy="356.23" rx="1.8" ry="2.43" fill="#8a70f0"/>
<ellipse cx="1.86" cy="360.65" rx="1.6" ry="2.16" fill="#c9c2f2"/>
<ellipse cx="0" cy="365.96" rx="2.6" ry="3.51" fill="#c9c2f2"/>
<ellipse cx="-1.86" cy="350.32" rx="1" ry="1.35" fill="#c9c2f2"/>
</g>
<use href="#bk12" fill="none" stroke="#c8c0f0" stroke-width="1.6" filter="url(#bl1)"/>
</g></g>
<g transform="translate(305.4 0)">
<line x1="0" y1="336.6" x2="0" y2="341" stroke="#8a8a8a" stroke-width="0.9"/>
<path d="M0 368.5C-0.3 381.02 -1 387.28 -0.8 399.8" fill="none" stroke="#b0b0b0" stroke-width="1.3"/>
<line x1="-4.65" y1="366.55" x2="-7.13" y2="370.68" stroke="#9c9c9c" stroke-width="1.3"/>
<line x1="4.65" y1="366.55" x2="7.13" y2="370.68" stroke="#9c9c9c" stroke-width="1.3"/>
<g clip-path="url(#ck12)">
<use href="#bk12" fill="url(#wg)"/>
<g filter="url(#ds0)"><ellipse cx="0" cy="355.34" rx="5.89" ry="14.75" fill="#3030e8"/><ellipse cx="3.1" cy="365.07" rx="3.1" ry="3.54" fill="#9080f0" opacity="0.7"/></g>
<g filter="url(#ds0)">
<ellipse cx="0" cy="345.9" rx="2.6" ry="3.51" fill="#2a34ec"/>
<ellipse cx="-1.24" cy="356.23" rx="1.8" ry="2.43" fill="#8a70f0"/>
<ellipse cx="1.86" cy="360.65" rx="1.6" ry="2.16" fill="#c9c2f2"/>
<ellipse cx="0" cy="365.96" rx="2.6" ry="3.51" fill="#c9c2f2"/>
<ellipse cx="-1.86" cy="350.32" rx="1" ry="1.35" fill="#c9c2f2"/>
</g>
<use href="#bk12" fill="none" stroke="#c8c0f0" stroke-width="1.6" filter="url(#bl1)"/>
</g></g>
</svg>
<rect x="323.4" y="337.8" width="58.6" height="62.7" fill="#2c2c2c"/>
<rect x="323.4" y="337.8" width="58.6" height="30.2" fill="#171717" filter="url(#bl1)"/>
<svg x="323.4" y="337.8" width="58.6" height="62.7" viewBox="323.4 337.8 58.6 62.7" overflow="hidden">
<g transform="translate(332.2 0)">
<line x1="0" y1="337.8" x2="0" y2="341" stroke="#8a8a8a" stroke-width="0.9"/>
<path d="M0 368.5C0.18 381.3 0.6 387.7 0.48 400.5" fill="none" stroke="#c07080" stroke-width="1.3"/>
<line x1="-4.65" y1="366.55" x2="-7.13" y2="370.68" stroke="#9c9c9c" stroke-width="1.3"/>
<line x1="4.65" y1="366.55" x2="7.13" y2="370.68" stroke="#9c9c9c" stroke-width="1.3"/>
<g clip-path="url(#ck12)">
<use href="#bk12" fill="url(#wg)"/>
<g filter="url(#ds1)"><ellipse cx="0" cy="355.34" rx="5.89" ry="14.75" fill="#3030e8"/><ellipse cx="3.1" cy="365.07" rx="3.1" ry="3.54" fill="#9080f0" opacity="0.7"/></g>
<g filter="url(#ds1)">
<ellipse cx="0" cy="345.9" rx="2.6" ry="3.51" fill="#2a34ec"/>
<ellipse cx="-1.24" cy="356.23" rx="1.8" ry="2.43" fill="#8a70f0"/>
<ellipse cx="1.86" cy="360.65" rx="1.6" ry="2.16" fill="#c9c2f2"/>
<ellipse cx="0" cy="365.96" rx="2.6" ry="3.51" fill="#c9c2f2"/>
<ellipse cx="-1.86" cy="350.32" rx="1" ry="1.35" fill="#c9c2f2"/>
</g>
<use href="#bk12" fill="none" stroke="#c8c0f0" stroke-width="1.6" filter="url(#bl1)"/>
</g></g>
<g transform="translate(345.7 0)">
<line x1="0" y1="337.8" x2="0" y2="341" stroke="#8a8a8a" stroke-width="0.9"/>
<path d="M0 368.5C-0.42 381.3 -1.4 387.7 -1.12 400.5" fill="none" stroke="#c05070" stroke-width="1.3"/>
<line x1="-4.65" y1="366.55" x2="-7.13" y2="370.68" stroke="#9c9c9c" stroke-width="1.3"/>
<line x1="4.65" y1="366.55" x2="7.13" y2="370.68" stroke="#9c9c9c" stroke-width="1.3"/>
<g clip-path="url(#ck12)">
<use href="#bk12" fill="url(#wg)"/>
<g filter="url(#ds2)"><ellipse cx="0" cy="355.34" rx="5.89" ry="14.75" fill="#3030e8"/><ellipse cx="3.1" cy="365.07" rx="3.1" ry="3.54" fill="#9080f0" opacity="0.7"/></g>
<g filter="url(#ds2)">
<ellipse cx="0" cy="354.75" rx="3.8" ry="5.13" fill="#2a34ec"/>
<ellipse cx="0" cy="354.75" rx="3.08" ry="4.16" fill="#48d4ec"/>
<ellipse cx="0" cy="354.75" rx="2.36" ry="3.18" fill="#62e05a"/>
<ellipse cx="0" cy="354.75" rx="1.63" ry="2.21" fill="#ecec48"/>
<ellipse cx="0" cy="354.75" rx="0.91" ry="1.23" fill="#ec3016"/>
<ellipse cx="0" cy="342.95" rx="2.4" ry="3.24" fill="#ecec48"/>
<ellipse cx="0" cy="342.95" rx="1.2" ry="1.62" fill="#62e05a"/>
</g>
<use href="#bk12" fill="none" stroke="#b8a8f8" stroke-width="1.6" filter="url(#bl1)"/>
</g></g>
<g transform="translate(359.2 0)">
<line x1="0" y1="337.8" x2="0" y2="341" stroke="#8a8a8a" stroke-width="0.9"/>
<path d="M0 368.5C0.48 381.3 1.6 387.7 1.28 400.5" fill="none" stroke="#c05070" stroke-width="1.3"/>
<line x1="-4.65" y1="366.55" x2="-7.13" y2="370.68" stroke="#9c9c9c" stroke-width="1.3"/>
<line x1="4.65" y1="366.55" x2="7.13" y2="370.68" stroke="#9c9c9c" stroke-width="1.3"/>
<g clip-path="url(#ck12)">
<use href="#bk12" fill="url(#wg)"/>
<g filter="url(#ds3)"><ellipse cx="0" cy="355.34" rx="5.89" ry="14.75" fill="#3030e8"/><ellipse cx="3.1" cy="365.07" rx="3.1" ry="3.54" fill="#9080f0" opacity="0.7"/></g>
<g filter="url(#ds3)">
<ellipse cx="0" cy="354.75" rx="3.4" ry="4.59" fill="#2a34ec"/>
<ellipse cx="0" cy="354.75" rx="2.75" ry="3.72" fill="#48d4ec"/>
<ellipse cx="0" cy="354.75" rx="2.11" ry="2.85" fill="#62e05a"/>
<ellipse cx="0" cy="354.75" rx="1.46" ry="1.97" fill="#ecec48"/>
<ellipse cx="0" cy="354.75" rx="0.82" ry="1.1" fill="#ec3016"/>
<ellipse cx="0" cy="342.95" rx="2.4" ry="3.24" fill="#ecec48"/>
<ellipse cx="0" cy="342.95" rx="1.2" ry="1.62" fill="#62e05a"/>
</g>
<use href="#bk12" fill="none" stroke="#b8a8f8" stroke-width="1.6" filter="url(#bl1)"/>
</g></g>
<g transform="translate(373.7 0)">
<line x1="0" y1="337.8" x2="0" y2="341" stroke="#8a8a8a" stroke-width="0.9"/>
<path d="M0 368.5C-0.15 381.3 -0.5 387.7 -0.4 400.5" fill="none" stroke="#b0b0b0" stroke-width="1.3"/>
<line x1="-4.65" y1="366.55" x2="-7.13" y2="370.68" stroke="#9c9c9c" stroke-width="1.3"/>
<line x1="4.65" y1="366.55" x2="7.13" y2="370.68" stroke="#9c9c9c" stroke-width="1.3"/>
<g clip-path="url(#ck12)">
<use href="#bk12" fill="url(#wg)"/>
<g filter="url(#ds0)"><ellipse cx="0" cy="355.34" rx="5.89" ry="14.75" fill="#3030e8"/><ellipse cx="3.1" cy="365.07" rx="3.1" ry="3.54" fill="#9080f0" opacity="0.7"/></g>
<g filter="url(#ds0)">
<ellipse cx="0" cy="345.9" rx="2.6" ry="3.51" fill="#2a34ec"/>
<ellipse cx="-1.24" cy="356.23" rx="1.8" ry="2.43" fill="#8a70f0"/>
<ellipse cx="1.86" cy="360.65" rx="1.6" ry="2.16" fill="#c9c2f2"/>
<ellipse cx="0" cy="365.96" rx="2.6" ry="3.51" fill="#c9c2f2"/>
<ellipse cx="-1.86" cy="350.32" rx="1" ry="1.35" fill="#c9c2f2"/>
</g>
<use href="#bk12" fill="none" stroke="#c8c0f0" stroke-width="1.6" filter="url(#bl1)"/>
</g></g>
</svg>
<rect x="393.8" y="336.3" width="69.4" height="63.4" fill="#2c2c2c"/>
<rect x="393.8" y="336.3" width="69.4" height="31.7" fill="#171717" filter="url(#bl1)"/>
<svg x="393.8" y="336.3" width="69.4" height="63.4" viewBox="393.8 336.3 69.4 63.4" overflow="hidden">
<defs><path id="bk13" d="M1.12 340C1.65 340.3 1.82 341.13 2.11 341.77C2.4 342.41 2.68 343.15 2.85 343.83C3.03 344.52 3.03 345.21 3.16 345.9C3.3 346.59 3.39 347.23 3.66 347.96C3.93 348.7 4.44 349.44 4.77 350.32C5.1 351.21 5.43 352.24 5.64 353.27C5.86 354.31 5.98 354.9 6.08 356.52C6.17 358.14 6.22 361.44 6.2 363.01C6.18 364.58 6.11 365.12 5.95 365.96C5.8 366.8 5.69 367.43 5.27 368.02C4.85 368.62 4.86 369.25 3.41 369.5C1.96 369.75 -1.96 369.75 -3.41 369.5C-4.86 369.25 -4.85 368.62 -5.27 368.02C-5.69 367.43 -5.8 366.8 -5.95 365.96C-6.11 365.12 -6.18 364.58 -6.2 363.01C-6.22 361.44 -6.17 358.14 -6.08 356.52C-5.98 354.9 -5.86 354.31 -5.64 353.27C-5.43 352.24 -5.1 351.21 -4.77 350.32C-4.44 349.44 -3.93 348.7 -3.66 347.96C-3.39 347.23 -3.3 346.59 -3.16 345.9C-3.03 345.21 -3.03 344.52 -2.85 343.83C-2.68 343.15 -2.4 342.41 -2.11 341.77C-1.82 341.13 -1.65 340.3 -1.12 340C-0.58 339.7 0.58 339.7 1.12 340Z"/><clipPath id="ck13"><use href="#bk13"/></clipPath></defs>
<g transform="translate(403.5 0)">
<line x1="0" y1="336.3" x2="0" y2="341" stroke="#8a8a8a" stroke-width="0.9"/>
<path d="M0 368.5C0.27 380.98 0.9 387.22 0.72 399.7" fill="none" stroke="#a8a8a8" stroke-width="1.3"/>
<line x1="-4.65" y1="366.55" x2="-7.13" y2="370.68" stroke="#9c9c9c" stroke-width="1.3"/>
<line x1="4.65" y1="366.55" x2="7.13" y2="370.68" stroke="#9c9c9c" stroke-width="1.3"/>
<g clip-path="url(#ck13)">
<use href="#bk13" fill="url(#wg)"/>
<g filter="url(#ds1)">
</g>
</g></g>
<g transform="translate(416.9 0)">
<line x1="0" y1="336.3" x2="0" y2="341" stroke="#8a8a8a" stroke-width="0.9"/>
<path d="M0 368.5C0.36 380.98 1.2 387.22 0.96 399.7" fill="none" stroke="#a8a8a8" stroke-width="1.3"/>
<line x1="-4.65" y1="366.55" x2="-7.13" y2="370.68" stroke="#9c9c9c" stroke-width="1.3"/>
<line x1="4.65" y1="366.55" x2="7.13" y2="370.68" stroke="#9c9c9c" stroke-width="1.3"/>
<g clip-path="url(#ck13)">
<use href="#bk13" fill="url(#wg)"/>
<g filter="url(#ds2)">
</g>
</g></g>
<g transform="translate(430.3 0)">
<line x1="0" y1="336.3" x2="0" y2="341" stroke="#8a8a8a" stroke-width="0.9"/>
<path d="M0 368.5C-0.3 380.98 -1 387.22 -0.8 399.7" fill="none" stroke="#a8a8a8" stroke-width="1.3"/>
<line x1="-4.65" y1="366.55" x2="-7.13" y2="370.68" stroke="#9c9c9c" stroke-width="1.3"/>
<line x1="4.65" y1="366.55" x2="7.13" y2="370.68" stroke="#9c9c9c" stroke-width="1.3"/>
<g clip-path="url(#ck13)">
<use href="#bk13" fill="url(#wg)"/>
<g filter="url(#ds3)">
</g>
</g></g>
<g transform="translate(443.8 0)">
<line x1="0" y1="336.3" x2="0" y2="341" stroke="#8a8a8a" stroke-width="0.9"/>
<path d="M0 368.5C0.18 380.98 0.6 387.22 0.48 399.7" fill="none" stroke="#a8a8a8" stroke-width="1.3"/>
<line x1="-4.65" y1="366.55" x2="-7.13" y2="370.68" stroke="#9c9c9c" stroke-width="1.3"/>
<line x1="4.65" y1="366.55" x2="7.13" y2="370.68" stroke="#9c9c9c" stroke-width="1.3"/>
<g clip-path="url(#ck13)">
<use href="#bk13" fill="url(#wg)"/>
<g filter="url(#ds0)">
</g>
</g></g>
<g transform="translate(456.9 0)">
<line x1="0" y1="336.3" x2="0" y2="341" stroke="#8a8a8a" stroke-width="0.9"/>
<path d="M0 368.5C-0.42 380.98 -1.4 387.22 -1.12 399.7" fill="none" stroke="#a8a8a8" stroke-width="1.3"/>
<line x1="-4.65" y1="366.55" x2="-7.13" y2="370.68" stroke="#9c9c9c" stroke-width="1.3"/>
<line x1="4.65" y1="366.55" x2="7.13" y2="370.68" stroke="#9c9c9c" stroke-width="1.3"/>
<g clip-path="url(#ck13)">
<use href="#bk13" fill="url(#wg)"/>
<g filter="url(#ds1)">
</g>
</g></g>
</svg>
<rect x="476.7" y="106" width="41.9" height="24" fill="none" stroke="#444" stroke-width="1"/>
<text x="478" y="112.4" font-size="5.7" fill="#2a2a2a" letter-spacing="0.42">Image</text>
<text x="478" y="119.95" font-size="5.7" fill="#2a2a2a" letter-spacing="0.42">Min = -1.01e4</text>
<text x="478" y="127.5" font-size="5.7" fill="#2a2a2a" letter-spacing="0.42">Max = 5.40e5</text>
<rect x="476.4" y="137.6" width="8.6" height="187.6" fill="url(#cbar)"/>
<line x1="485" y1="145.6" x2="491" y2="145.6" stroke="#666" stroke-width="0.9"/>
<line x1="485" y1="153.76" x2="488.2" y2="153.76" stroke="#666" stroke-width="0.9"/>
<line x1="485" y1="161.92" x2="488.2" y2="161.92" stroke="#666" stroke-width="0.9"/>
<line x1="485" y1="170.08" x2="488.2" y2="170.08" stroke="#666" stroke-width="0.9"/>
<line x1="485" y1="178.24" x2="488.2" y2="178.24" stroke="#666" stroke-width="0.9"/>
<line x1="485" y1="186.4" x2="491" y2="186.4" stroke="#666" stroke-width="0.9"/>
<line x1="485" y1="194.56" x2="488.2" y2="194.56" stroke="#666" stroke-width="0.9"/>
<line x1="485" y1="202.72" x2="488.2" y2="202.72" stroke="#666" stroke-width="0.9"/>
<line x1="485" y1="210.88" x2="488.2" y2="210.88" stroke="#666" stroke-width="0.9"/>
<line x1="485" y1="219.04" x2="488.2" y2="219.04" stroke="#666" stroke-width="0.9"/>
<line x1="485" y1="227.2" x2="491" y2="227.2" stroke="#666" stroke-width="0.9"/>
<line x1="485" y1="235.36" x2="488.2" y2="235.36" stroke="#666" stroke-width="0.9"/>
<line x1="485" y1="243.52" x2="488.2" y2="243.52" stroke="#666" stroke-width="0.9"/>
<line x1="485" y1="251.68" x2="488.2" y2="251.68" stroke="#666" stroke-width="0.9"/>
<line x1="485" y1="259.84" x2="488.2" y2="259.84" stroke="#666" stroke-width="0.9"/>
<line x1="485" y1="268" x2="491" y2="268" stroke="#666" stroke-width="0.9"/>
<line x1="485" y1="276.16" x2="488.2" y2="276.16" stroke="#666" stroke-width="0.9"/>
<line x1="485" y1="284.32" x2="488.2" y2="284.32" stroke="#666" stroke-width="0.9"/>
<line x1="485" y1="292.48" x2="488.2" y2="292.48" stroke="#666" stroke-width="0.9"/>
<line x1="485" y1="300.64" x2="488.2" y2="300.64" stroke="#666" stroke-width="0.9"/>
<line x1="485" y1="308.8" x2="491" y2="308.8" stroke="#666" stroke-width="0.9"/>
<line x1="485" y1="316.96" x2="488.2" y2="316.96" stroke="#666" stroke-width="0.9"/>
<text x="493" y="147.8" font-size="6" fill="#333" letter-spacing="0.5">1.0</text>
<text x="493" y="188.6" font-size="6" fill="#333" letter-spacing="0.5">0.8</text>
<text x="493" y="229.4" font-size="6" fill="#333" letter-spacing="0.5">0.6</text>
<text x="493" y="270.2" font-size="6" fill="#333" letter-spacing="0.5">0.4</text>
<text x="493" y="311" font-size="6" fill="#333" letter-spacing="0.5">0.2</text>
<text x="507" y="229.8" font-size="5.8" fill="#333" letter-spacing="0.3">x10</text>
<text x="516.6" y="226.4" font-size="5" fill="#333">5</text>
<text x="476.2" y="331.8" font-size="5.8" fill="#333" letter-spacing="0.5">p/sec/cm^2/sr</text>
<rect x="476.7" y="337.9" width="40.2" height="23.6" fill="none" stroke="#444" stroke-width="1"/>
<text x="478" y="344.4" font-size="5.7" fill="#2a2a2a" letter-spacing="0.42">Color Bar</text>
<text x="478" y="351.95" font-size="5.7" fill="#2a2a2a" letter-spacing="0.42">Min = 1.30e4</text>
<text x="478" y="359.5" font-size="5.7" fill="#2a2a2a" letter-spacing="0.42">Max = 1.05e5</text>
<text x="1.2" y="235" font-size="18" font-weight="bold" fill="#000">B</text>
<line x1="70.8" y1="311.6" x2="207.9" y2="311.6" stroke="#8a8a8a" stroke-width="1.1"/>
<path d="M70.8 265.3V357.8H207.9V265.3" fill="none" stroke="#000" stroke-width="1.5"/>
<line x1="70.05" y1="265.3" x2="208.65" y2="265.3" stroke="#000" stroke-width="1.5"/>
<line x1="65.6" y1="265.3" x2="70.8" y2="265.3" stroke="#000" stroke-width="1.5"/>
<line x1="65.6" y1="311.6" x2="70.8" y2="311.6" stroke="#000" stroke-width="1.5"/>
<line x1="65.6" y1="357.8" x2="70.8" y2="357.8" stroke="#000" stroke-width="1.5"/>
<line x1="70.8" y1="357.8" x2="70.8" y2="363.4" stroke="#000" stroke-width="1.5"/>
<line x1="95.8" y1="357.8" x2="95.8" y2="363.4" stroke="#000" stroke-width="1.5"/>
<line x1="120.8" y1="357.8" x2="120.8" y2="363.4" stroke="#000" stroke-width="1.5"/>
<line x1="145.8" y1="357.8" x2="145.8" y2="363.4" stroke="#000" stroke-width="1.5"/>
<line x1="170.8" y1="357.8" x2="170.8" y2="363.4" stroke="#000" stroke-width="1.5"/>
<line x1="195.8" y1="357.8" x2="195.8" y2="363.4" stroke="#000" stroke-width="1.5"/>
<text x="54.2" y="277" font-size="16" stroke="#000" stroke-width="0.3" text-anchor="end" fill="#000">40</text>
<text x="54.2" y="321.8" font-size="16" stroke="#000" stroke-width="0.3" text-anchor="end" fill="#000">20</text>
<text x="54.2" y="366.2" font-size="16" stroke="#000" stroke-width="0.3" text-anchor="end" fill="#000">0</text>
<text x="11.6" y="331.5" font-size="14" stroke="#000" stroke-width="0.3" text-anchor="middle" fill="#000" transform="rotate(-90 11.6 331.5)">Photons emitted (x10<tspan font-size="8.5" dy="-5">6</tspan><tspan dy="5">)/</tspan></text>
<text x="27.6" y="330" font-size="14" stroke="#000" stroke-width="0.3" text-anchor="middle" fill="#000" transform="rotate(-90 27.6 330)">mouse / second</text>
<text x="94.3" y="370.8" font-size="14.2" stroke="#000" stroke-width="0.3" text-anchor="end" fill="#000" transform="rotate(-90 94.3 370.8)">d+10</text>
<text x="119.3" y="370.8" font-size="14.2" stroke="#000" stroke-width="0.3" text-anchor="end" fill="#000" transform="rotate(-90 119.3 370.8)">wk 2</text>
<text x="144.3" y="370.8" font-size="14.2" stroke="#000" stroke-width="0.3" text-anchor="end" fill="#000" transform="rotate(-90 144.3 370.8)">wk 3</text>
<text x="169.3" y="370.8" font-size="14.2" stroke="#000" stroke-width="0.3" text-anchor="end" fill="#000" transform="rotate(-90 169.3 370.8)">wk 4</text>
<text x="194.3" y="370.8" font-size="14.2" stroke="#000" stroke-width="0.3" text-anchor="end" fill="#000" transform="rotate(-90 194.3 370.8)">wk 8</text>
<polyline points="95.8,348.6 120.8,338.8 145.8,327.2 170.8,322.9 195.8,335.9" fill="none" stroke="#1010f0" stroke-width="3.6" stroke-linejoin="round"/>
<path d="M95.8 343.2L101.74 348.6L95.8 354L89.86 348.6Z" fill="#1010f0"/>
<path d="M120.8 333.4L126.74 338.8L120.8 344.2L114.86 338.8Z" fill="#1010f0"/>
<path d="M145.8 321.8L151.74 327.2L145.8 332.6L139.86 327.2Z" fill="#1010f0"/>
<path d="M170.8 317.5L176.74 322.9L170.8 328.3L164.86 322.9Z" fill="#1010f0"/>
<path d="M195.8 330.5L201.74 335.9L195.8 341.3L189.86 335.9Z" fill="#1010f0"/>
<polyline points="95.8,355.8 120.8,352.6 145.8,332.6 170.8,308.8 195.8,318.1" fill="none" stroke="#f01010" stroke-width="3.6" stroke-linejoin="round"/>
<rect x="91.7" y="351.7" width="8.2" height="8.2" fill="#f01010"/>
<rect x="116.7" y="348.5" width="8.2" height="8.2" fill="#f01010"/>
<rect x="141.7" y="328.5" width="8.2" height="8.2" fill="#f01010"/>
<rect x="166.7" y="304.7" width="8.2" height="8.2" fill="#f01010"/>
<rect x="191.7" y="314" width="8.2" height="8.2" fill="#f01010"/>
<polyline points="95.8,357.2 120.8,356.6 145.8,351.3 170.8,351.3 195.8,356.4" fill="none" stroke="#108010" stroke-width="3.6" stroke-linejoin="round"/>
<path d="M95.8 352.16L101.32 361.04L90.28 361.04Z" fill="#108010"/>
<path d="M120.8 351.56L126.32 360.44L115.28 360.44Z" fill="#108010"/>
<path d="M145.8 346.26L151.32 355.14L140.28 355.14Z" fill="#108010"/>
<path d="M170.8 346.26L176.32 355.14L165.28 355.14Z" fill="#108010"/>
<path d="M195.8 351.36L201.32 360.24L190.28 360.24Z" fill="#108010"/>
<rect x="68.5" y="224.2" width="135.6" height="48.6" fill="#fff" stroke="#000" stroke-width="1.5"/>
<path d="M86 232.3L90.62 236.5L86 240.7L81.38 236.5Z" fill="#1010f0"/>
<rect x="82.6" y="244.8" width="6.8" height="6.8" fill="#f01010"/>
<path d="M86 257.4L90.6 264.8L81.4 264.8Z" fill="#108010"/>
<text x="102.6" y="240.6" font-size="10.6" stroke="#000" stroke-width="0.3" fill="#000">congenic</text>
<text x="100" y="252.4" font-size="10.6" stroke="#000" stroke-width="0.3" fill="#000">miAG-mismatched</text>
<text x="97.8" y="265.2" font-size="10.6" stroke="#000" stroke-width="0.3" fill="#000">MHC-mismatched</text>
<text x="0.6" y="447.8" font-size="18.5" font-weight="bold" fill="#000">C</text>
<text x="77" y="445.4" font-size="14" font-weight="bold" fill="#000">B cell chimerism</text>
<text x="232.4" y="445.5" font-size="14" font-weight="bold" fill="#000">T cell chimerism</text>
<text x="354.8" y="445.5" font-size="14.2" font-weight="bold" fill="#000">Granulocyte chimerism</text>
<text x="11.2" y="530" font-size="14" stroke="#000" stroke-width="0.3" text-anchor="middle" fill="#000" transform="rotate(-90 11.2 530)">% donor chimerism</text>
<line x1="33.6" y1="482.8" x2="33.6" y2="571.1" stroke="#000" stroke-width="1.6"/>
<line x1="31.4" y1="570.2" x2="99.6" y2="570.2" stroke="#000" stroke-width="1.8"/>
<line x1="30.6" y1="570.2" x2="33.6" y2="570.2" stroke="#000" stroke-width="1"/>
<text x="31" y="573.3" font-size="8.8" stroke="#000" stroke-width="0.3" text-anchor="end" fill="#000" letter-spacing="-0.62">0</text>
<line x1="31.6" y1="561.51" x2="33.6" y2="561.51" stroke="#000" stroke-width="1"/>
<line x1="30.6" y1="552.82" x2="33.6" y2="552.82" stroke="#000" stroke-width="1"/>
<text x="31" y="555.92" font-size="8.8" stroke="#000" stroke-width="0.3" text-anchor="end" fill="#000" letter-spacing="-0.62">20</text>
<line x1="31.6" y1="544.13" x2="33.6" y2="544.13" stroke="#000" stroke-width="1"/>
<line x1="30.6" y1="535.44" x2="33.6" y2="535.44" stroke="#000" stroke-width="1"/>
<text x="31" y="538.54" font-size="8.8" stroke="#000" stroke-width="0.3" text-anchor="end" fill="#000" letter-spacing="-0.62">40</text>
<line x1="31.6" y1="526.75" x2="33.6" y2="526.75" stroke="#000" stroke-width="1"/>
<line x1="30.6" y1="518.06" x2="33.6" y2="518.06" stroke="#000" stroke-width="1"/>
<text x="31" y="521.16" font-size="8.8" stroke="#000" stroke-width="0.3" text-anchor="end" fill="#000" letter-spacing="-0.62">60</text>
<line x1="31.6" y1="509.37" x2="33.6" y2="509.37" stroke="#000" stroke-width="1"/>
<line x1="30.6" y1="500.68" x2="33.6" y2="500.68" stroke="#000" stroke-width="1"/>
<text x="31" y="503.78" font-size="8.8" stroke="#000" stroke-width="0.3" text-anchor="end" fill="#000" letter-spacing="-0.62">80</text>
<line x1="31.6" y1="491.99" x2="33.6" y2="491.99" stroke="#000" stroke-width="1"/>
<line x1="30.6" y1="483.3" x2="33.6" y2="483.3" stroke="#000" stroke-width="1"/>
<text x="31" y="486.4" font-size="8.8" stroke="#000" stroke-width="0.3" text-anchor="end" fill="#000" letter-spacing="-0.62">100</text>
<text x="49.8" y="575.6" font-size="12.4" stroke="#000" stroke-width="0.3" text-anchor="end" fill="#000" transform="rotate(-90 49.8 575.6)">B6 &gt; B6</text>
<text x="71.4" y="575.6" font-size="12.4" stroke="#000" stroke-width="0.3" text-anchor="end" fill="#000" transform="rotate(-90 71.4 575.6)">B6 &gt; BALB.B</text>
<text x="93" y="575.6" font-size="12.4" stroke="#000" stroke-width="0.3" text-anchor="end" fill="#000" transform="rotate(-90 93 575.6)">B6 &gt; BALB/c</text>
<circle cx="44.9" cy="550" r="1.9" fill="#000"/>
<circle cx="39.2" cy="564.4" r="1.9" fill="#000"/>
<circle cx="43.6" cy="564.4" r="1.9" fill="#000"/>
<circle cx="48.2" cy="561.4" r="1.9" fill="#000"/>
<circle cx="50" cy="564.4" r="1.9" fill="#000"/>
<line x1="37.3" y1="560.6" x2="52.5" y2="560.6" stroke="#000" stroke-width="1.3"/>
<path d="M61.2 526.78L63.4 530.96L59 530.96Z" fill="#000"/>
<path d="M66.3 526.78L68.5 530.96L64.1 530.96Z" fill="#000"/>
<path d="M66.3 540.28L68.5 544.46L64.1 544.46Z" fill="#000"/>
<path d="M66.3 546.08L68.5 550.26L64.1 550.26Z" fill="#000"/>
<path d="M66.3 552.18L68.5 556.36L64.1 556.36Z" fill="#000"/>
<line x1="58.7" y1="540.6" x2="74" y2="540.6" stroke="#000" stroke-width="1.3"/>
<path d="M88 559L90.2 561.2L88 563.4L85.8 561.2Z" fill="#000"/>
<path d="M84.2 566.4L86.4 568.6L84.2 570.8L82 568.6Z" fill="#000"/>
<path d="M87.2 565.8L89.4 568L87.2 570.2L85 568Z" fill="#000"/>
<path d="M90 566.4L92.2 568.6L90 570.8L87.8 568.6Z" fill="#000"/>
<path d="M92.4 566.8L94.6 569L92.4 571.2L90.2 569Z" fill="#000"/>
<path d="M86 567.2L88.2 569.4L86 571.6L83.8 569.4Z" fill="#000"/>
<line x1="80.4" y1="568.4" x2="95" y2="568.4" stroke="#000" stroke-width="1.3"/>
<line x1="48" y1="492.3" x2="85.6" y2="492.3" stroke="#000" stroke-width="2.2"/>
<line x1="47.2" y1="507.4" x2="67.3" y2="507.4" stroke="#000" stroke-width="2.2"/>
<line x1="67.3" y1="524.4" x2="86.5" y2="524.4" stroke="#000" stroke-width="2.2"/>
<text x="60.4" y="486.4" font-size="10.8" stroke="#000" stroke-width="0.6" font-style="italic" fill="#000">0.005</text>
<text x="54.4" y="502.6" font-size="10.8" stroke="#000" stroke-width="0.6" font-style="italic" fill="#000">0.01</text>
<text x="74.4" y="518" font-size="10.8" stroke="#000" stroke-width="0.6" font-style="italic" fill="#000">0.05</text>
<rect x="43.6" y="450.1" width="45.5" height="28.8" fill="#fff" stroke="#000" stroke-width="1.8"/>
<text x="66.35" y="471.2" font-size="14.2" stroke="#000" stroke-width="0.3" text-anchor="middle" fill="#000">TLI</text>
<rect x="116.7" y="450.1" width="47.2" height="28.8" fill="#fff" stroke="#000" stroke-width="1.8"/>
<text x="140.3" y="471.2" font-size="14.2" stroke="#000" stroke-width="0.3" text-anchor="middle" fill="#000">TBI</text>
<line x1="110" y1="482.8" x2="110" y2="571.1" stroke="#000" stroke-width="1.6"/>
<line x1="107.8" y1="570.2" x2="176" y2="570.2" stroke="#000" stroke-width="1.8"/>
<line x1="107.6" y1="570.2" x2="110" y2="570.2" stroke="#000" stroke-width="1"/>
<line x1="107.6" y1="561.51" x2="110" y2="561.51" stroke="#000" stroke-width="1"/>
<line x1="107.6" y1="552.82" x2="110" y2="552.82" stroke="#000" stroke-width="1"/>
<line x1="107.6" y1="544.13" x2="110" y2="544.13" stroke="#000" stroke-width="1"/>
<line x1="107.6" y1="535.44" x2="110" y2="535.44" stroke="#000" stroke-width="1"/>
<line x1="107.6" y1="526.75" x2="110" y2="526.75" stroke="#000" stroke-width="1"/>
<line x1="107.6" y1="518.06" x2="110" y2="518.06" stroke="#000" stroke-width="1"/>
<line x1="107.6" y1="509.37" x2="110" y2="509.37" stroke="#000" stroke-width="1"/>
<line x1="107.6" y1="500.68" x2="110" y2="500.68" stroke="#000" stroke-width="1"/>
<line x1="107.6" y1="491.99" x2="110" y2="491.99" stroke="#000" stroke-width="1"/>
<line x1="107.6" y1="483.3" x2="110" y2="483.3" stroke="#000" stroke-width="1"/>
<text x="126.2" y="575.6" font-size="12.4" stroke="#000" stroke-width="0.3" text-anchor="end" fill="#000" transform="rotate(-90 126.2 575.6)">B6 &gt; B6</text>
<text x="147.8" y="575.6" font-size="12.4" stroke="#000" stroke-width="0.3" text-anchor="end" fill="#000" transform="rotate(-90 147.8 575.6)">B6 &gt; BALB.B</text>
<text x="169.4" y="575.6" font-size="12.4" stroke="#000" stroke-width="0.3" text-anchor="end" fill="#000" transform="rotate(-90 169.4 575.6)">B6 &gt; BALB/c</text>
<circle cx="115.6" cy="483.8" r="1.9" fill="#000"/>
<circle cx="118.4" cy="483.8" r="1.9" fill="#000"/>
<circle cx="121.2" cy="483.8" r="1.9" fill="#000"/>
<circle cx="124" cy="483.8" r="1.9" fill="#000"/>
<circle cx="126.8" cy="483.8" r="1.9" fill="#000"/>
<path d="M136.8 481.7L138.8 485.5L134.8 485.5Z" fill="#000"/>
<path d="M139.6 481.7L141.6 485.5L137.6 485.5Z" fill="#000"/>
<path d="M142.4 481.7L144.4 485.5L140.4 485.5Z" fill="#000"/>
<path d="M145.2 481.7L147.2 485.5L143.2 485.5Z" fill="#000"/>
<path d="M148.2 481.7L150.2 485.5L146.2 485.5Z" fill="#000"/>
<path d="M158 481.6L160.2 483.8L158 486L155.8 483.8Z" fill="#000"/>
<path d="M164.4 481.6L166.6 483.8L164.4 486L162.2 483.8Z" fill="#000"/>
<path d="M164.4 522L166.6 524.2L164.4 526.4L162.2 524.2Z" fill="#000"/>
<line x1="157.1" y1="497.7" x2="171.8" y2="497.7" stroke="#000" stroke-width="1.3"/>
<rect x="206.1" y="451.1" width="45.1" height="28.6" fill="#fff" stroke="#000" stroke-width="1.8"/>
<text x="228.65" y="472" font-size="14.2" stroke="#000" stroke-width="0.3" text-anchor="middle" fill="#000">TLI</text>
<line x1="199.4" y1="482.8" x2="199.4" y2="571.1" stroke="#000" stroke-width="1.6"/>
<line x1="197.2" y1="570.2" x2="265.4" y2="570.2" stroke="#000" stroke-width="1.8"/>
<line x1="196.4" y1="570.2" x2="199.4" y2="570.2" stroke="#000" stroke-width="1"/>
<text x="196.8" y="573.3" font-size="8.8" stroke="#000" stroke-width="0.3" text-anchor="end" fill="#000" letter-spacing="-0.62">0</text>
<line x1="197.4" y1="561.51" x2="199.4" y2="561.51" stroke="#000" stroke-width="1"/>
<line x1="196.4" y1="552.82" x2="199.4" y2="552.82" stroke="#000" stroke-width="1"/>
<text x="196.8" y="555.92" font-size="8.8" stroke="#000" stroke-width="0.3" text-anchor="end" fill="#000" letter-spacing="-0.62">20</text>
<line x1="197.4" y1="544.13" x2="199.4" y2="544.13" stroke="#000" stroke-width="1"/>
<line x1="196.4" y1="535.44" x2="199.4" y2="535.44" stroke="#000" stroke-width="1"/>
<text x="196.8" y="538.54" font-size="8.8" stroke="#000" stroke-width="0.3" text-anchor="end" fill="#000" letter-spacing="-0.62">40</text>
<line x1="197.4" y1="526.75" x2="199.4" y2="526.75" stroke="#000" stroke-width="1"/>
<line x1="196.4" y1="518.06" x2="199.4" y2="518.06" stroke="#000" stroke-width="1"/>
<text x="196.8" y="521.16" font-size="8.8" stroke="#000" stroke-width="0.3" text-anchor="end" fill="#000" letter-spacing="-0.62">60</text>
<line x1="197.4" y1="509.37" x2="199.4" y2="509.37" stroke="#000" stroke-width="1"/>
<line x1="196.4" y1="500.68" x2="199.4" y2="500.68" stroke="#000" stroke-width="1"/>
<text x="196.8" y="503.78" font-size="8.8" stroke="#000" stroke-width="0.3" text-anchor="end" fill="#000" letter-spacing="-0.62">80</text>
<line x1="197.4" y1="491.99" x2="199.4" y2="491.99" stroke="#000" stroke-width="1"/>
<line x1="196.4" y1="483.3" x2="199.4" y2="483.3" stroke="#000" stroke-width="1"/>
<text x="196.8" y="486.4" font-size="8.8" stroke="#000" stroke-width="0.3" text-anchor="end" fill="#000" letter-spacing="-0.62">100</text>
<text x="215.6" y="575.6" font-size="12.4" stroke="#000" stroke-width="0.3" text-anchor="end" fill="#000" transform="rotate(-90 215.6 575.6)">B6 &gt; B6</text>
<text x="237.2" y="575.6" font-size="12.4" stroke="#000" stroke-width="0.3" text-anchor="end" fill="#000" transform="rotate(-90 237.2 575.6)">B6 &gt; BALB.B</text>
<text x="258.8" y="575.6" font-size="12.4" stroke="#000" stroke-width="0.3" text-anchor="end" fill="#000" transform="rotate(-90 258.8 575.6)">B6 &gt; BALB/c</text>
<circle cx="208.5" cy="565.7" r="1.9" fill="#000"/>
<circle cx="213.7" cy="567.2" r="1.9" fill="#000"/>
<circle cx="205.8" cy="569" r="1.9" fill="#000"/>
<circle cx="210.2" cy="569.4" r="1.9" fill="#000"/>
<circle cx="216.4" cy="569" r="1.9" fill="#000"/>
<line x1="204" y1="568.6" x2="219" y2="568.6" stroke="#000" stroke-width="1.3"/>
<path d="M232.8 559.28L235 563.46L230.6 563.46Z" fill="#000"/>
<path d="M227.6 563.58L229.8 567.76L225.4 567.76Z" fill="#000"/>
<path d="M235.4 563.58L237.6 567.76L233.2 567.76Z" fill="#000"/>
<path d="M232.2 566.98L234.4 571.16L230 571.16Z" fill="#000"/>
<path d="M237.2 566.98L239.4 571.16L235 571.16Z" fill="#000"/>
<line x1="226.7" y1="566.4" x2="239.7" y2="566.4" stroke="#000" stroke-width="1.3"/>
<path d="M250.8 566.8L253 569L250.8 571.2L248.6 569Z" fill="#000"/>
<path d="M253.6 566.8L255.8 569L253.6 571.2L251.4 569Z" fill="#000"/>
<path d="M256.6 566.8L258.8 569L256.6 571.2L254.4 569Z" fill="#000"/>
<path d="M252.2 567.4L254.4 569.6L252.2 571.8L250 569.6Z" fill="#000"/>
<line x1="248" y1="569.2" x2="262" y2="569.2" stroke="#000" stroke-width="1.3"/>
<rect x="278" y="451.1" width="48.1" height="28.6" fill="#fff" stroke="#000" stroke-width="1.8"/>
<text x="302.05" y="472" font-size="14.2" stroke="#000" stroke-width="0.3" text-anchor="middle" fill="#000">TBI</text>
<line x1="274.2" y1="482.8" x2="274.2" y2="571.1" stroke="#000" stroke-width="1.6"/>
<line x1="272" y1="570.2" x2="340.2" y2="570.2" stroke="#000" stroke-width="1.8"/>
<line x1="271.8" y1="570.2" x2="274.2" y2="570.2" stroke="#000" stroke-width="1"/>
<line x1="271.8" y1="561.51" x2="274.2" y2="561.51" stroke="#000" stroke-width="1"/>
<line x1="271.8" y1="552.82" x2="274.2" y2="552.82" stroke="#000" stroke-width="1"/>
<line x1="271.8" y1="544.13" x2="274.2" y2="544.13" stroke="#000" stroke-width="1"/>
<line x1="271.8" y1="535.44" x2="274.2" y2="535.44" stroke="#000" stroke-width="1"/>
<line x1="271.8" y1="526.75" x2="274.2" y2="526.75" stroke="#000" stroke-width="1"/>
<line x1="271.8" y1="518.06" x2="274.2" y2="518.06" stroke="#000" stroke-width="1"/>
<line x1="271.8" y1="509.37" x2="274.2" y2="509.37" stroke="#000" stroke-width="1"/>
<line x1="271.8" y1="500.68" x2="274.2" y2="500.68" stroke="#000" stroke-width="1"/>
<line x1="271.8" y1="491.99" x2="274.2" y2="491.99" stroke="#000" stroke-width="1"/>
<line x1="271.8" y1="483.3" x2="274.2" y2="483.3" stroke="#000" stroke-width="1"/>
<text x="290.4" y="575.6" font-size="12.4" stroke="#000" stroke-width="0.3" text-anchor="end" fill="#000" transform="rotate(-90 290.4 575.6)">B6 &gt; B6</text>
<text x="312" y="575.6" font-size="12.4" stroke="#000" stroke-width="0.3" text-anchor="end" fill="#000" transform="rotate(-90 312 575.6)">B6 &gt; BALB.B</text>
<text x="333.6" y="575.6" font-size="12.4" stroke="#000" stroke-width="0.3" text-anchor="end" fill="#000" transform="rotate(-90 333.6 575.6)">B6 &gt; BALB/c</text>
<circle cx="286" cy="538.3" r="1.9" fill="#000"/>
<circle cx="286" cy="544.4" r="1.9" fill="#000"/>
<circle cx="290.8" cy="547.8" r="1.9" fill="#000"/>
<circle cx="286" cy="552.3" r="1.9" fill="#000"/>
<line x1="278.7" y1="545.7" x2="292.9" y2="545.7" stroke="#000" stroke-width="1.3"/>
<path d="M301.5 508.68L303.7 512.86L299.3 512.86Z" fill="#000"/>
<path d="M306.7 509.78L308.9 513.96L304.5 513.96Z" fill="#000"/>
<path d="M311.9 509.78L314.1 513.96L309.7 513.96Z" fill="#000"/>
<path d="M306.7 533.48L308.9 537.66L304.5 537.66Z" fill="#000"/>
<circle cx="306.7" cy="519" r="1.9" fill="#000"/>
<line x1="299.4" y1="517.7" x2="314.5" y2="517.7" stroke="#000" stroke-width="1.3"/>
<path d="M322 510.2L324.2 512.4L322 514.6L319.8 512.4Z" fill="#000"/>
<path d="M328.7 516.2L330.9 518.4L328.7 520.6L326.5 518.4Z" fill="#000"/>
<path d="M328.7 556.2L330.9 558.4L328.7 560.6L326.5 558.4Z" fill="#000"/>
<line x1="321.4" y1="529.8" x2="335.8" y2="529.8" stroke="#000" stroke-width="1.3"/>
<rect x="376.7" y="450.9" width="46.2" height="28.8" fill="#fff" stroke="#000" stroke-width="1.8"/>
<text x="399.8" y="472" font-size="14.2" stroke="#000" stroke-width="0.3" text-anchor="middle" fill="#000">TLI</text>
<line x1="370.4" y1="482.8" x2="370.4" y2="571.1" stroke="#000" stroke-width="1.6"/>
<line x1="368.2" y1="570.2" x2="436.4" y2="570.2" stroke="#000" stroke-width="1.8"/>
<line x1="367.4" y1="570.2" x2="370.4" y2="570.2" stroke="#000" stroke-width="1"/>
<text x="367.8" y="573.3" font-size="8.8" stroke="#000" stroke-width="0.3" text-anchor="end" fill="#000" letter-spacing="-0.62">0</text>
<line x1="368.4" y1="561.51" x2="370.4" y2="561.51" stroke="#000" stroke-width="1"/>
<line x1="367.4" y1="552.82" x2="370.4" y2="552.82" stroke="#000" stroke-width="1"/>
<text x="367.8" y="555.92" font-size="8.8" stroke="#000" stroke-width="0.3" text-anchor="end" fill="#000" letter-spacing="-0.62">20</text>
<line x1="368.4" y1="544.13" x2="370.4" y2="544.13" stroke="#000" stroke-width="1"/>
<line x1="367.4" y1="535.44" x2="370.4" y2="535.44" stroke="#000" stroke-width="1"/>
<text x="367.8" y="538.54" font-size="8.8" stroke="#000" stroke-width="0.3" text-anchor="end" fill="#000" letter-spacing="-0.62">40</text>
<line x1="368.4" y1="526.75" x2="370.4" y2="526.75" stroke="#000" stroke-width="1"/>
<line x1="367.4" y1="518.06" x2="370.4" y2="518.06" stroke="#000" stroke-width="1"/>
<text x="367.8" y="521.16" font-size="8.8" stroke="#000" stroke-width="0.3" text-anchor="end" fill="#000" letter-spacing="-0.62">60</text>
<line x1="368.4" y1="509.37" x2="370.4" y2="509.37" stroke="#000" stroke-width="1"/>
<line x1="367.4" y1="500.68" x2="370.4" y2="500.68" stroke="#000" stroke-width="1"/>
<text x="367.8" y="503.78" font-size="8.8" stroke="#000" stroke-width="0.3" text-anchor="end" fill="#000" letter-spacing="-0.62">80</text>
<line x1="368.4" y1="491.99" x2="370.4" y2="491.99" stroke="#000" stroke-width="1"/>
<line x1="367.4" y1="483.3" x2="370.4" y2="483.3" stroke="#000" stroke-width="1"/>
<text x="367.8" y="486.4" font-size="8.8" stroke="#000" stroke-width="0.3" text-anchor="end" fill="#000" letter-spacing="-0.62">100</text>
<text x="386.6" y="575.6" font-size="12.4" stroke="#000" stroke-width="0.3" text-anchor="end" fill="#000" transform="rotate(-90 386.6 575.6)">B6 &gt; B6</text>
<text x="408.2" y="575.6" font-size="12.4" stroke="#000" stroke-width="0.3" text-anchor="end" fill="#000" transform="rotate(-90 408.2 575.6)">B6 &gt; BALB.B</text>
<text x="429.8" y="575.6" font-size="12.4" stroke="#000" stroke-width="0.3" text-anchor="end" fill="#000" transform="rotate(-90 429.8 575.6)">B6 &gt; BALB/c</text>
<circle cx="382" cy="551.2" r="1.9" fill="#000"/>
<circle cx="377.6" cy="562" r="1.9" fill="#000"/>
<circle cx="385.6" cy="562" r="1.9" fill="#000"/>
<circle cx="382" cy="565.6" r="1.9" fill="#000"/>
<circle cx="380" cy="562.4" r="1.9" fill="#000"/>
<line x1="375.4" y1="561.3" x2="389.2" y2="561.3" stroke="#000" stroke-width="1.3"/>
<path d="M398 559.58L400.2 563.76L395.8 563.76Z" fill="#000"/>
<path d="M403 559.58L405.2 563.76L400.8 563.76Z" fill="#000"/>
<path d="M408 559.58L410.2 563.76L405.8 563.76Z" fill="#000"/>
<path d="M403.7 563.58L405.9 567.76L401.5 567.76Z" fill="#000"/>
<path d="M410 560.58L412.2 564.76L407.8 564.76Z" fill="#000"/>
<line x1="396" y1="563" x2="423.8" y2="563" stroke="#000" stroke-width="1.8"/>
<path d="M422.2 566.8L424.4 569L422.2 571.2L420 569Z" fill="#000"/>
<path d="M425 566.8L427.2 569L425 571.2L422.8 569Z" fill="#000"/>
<path d="M428 566.8L430.2 569L428 571.2L425.8 569Z" fill="#000"/>
<path d="M430.4 567L432.6 569.2L430.4 571.4L428.2 569.2Z" fill="#000"/>
<line x1="420" y1="569" x2="434" y2="569" stroke="#000" stroke-width="1.3"/>
<line x1="385.4" y1="530.2" x2="422.9" y2="530.2" stroke="#000" stroke-width="2.2"/>
<text x="398.2" y="525.4" font-size="10.8" stroke="#000" stroke-width="0.6" font-style="italic" fill="#000">0.03</text>
<text x="411" y="541.5" font-size="10.8" stroke="#000" stroke-width="0.6" font-style="italic" fill="#000">0.002</text>
<rect x="449.9" y="450.9" width="47" height="28.8" fill="#fff" stroke="#000" stroke-width="1.8"/>
<text x="473.4" y="472" font-size="14.2" stroke="#000" stroke-width="0.3" text-anchor="middle" fill="#000">TBI</text>
<line x1="447.3" y1="482.8" x2="447.3" y2="571.1" stroke="#000" stroke-width="1.6"/>
<line x1="445.1" y1="570.2" x2="513.3" y2="570.2" stroke="#000" stroke-width="1.8"/>
<line x1="444.9" y1="570.2" x2="447.3" y2="570.2" stroke="#000" stroke-width="1"/>
<line x1="444.9" y1="561.51" x2="447.3" y2="561.51" stroke="#000" stroke-width="1"/>
<line x1="444.9" y1="552.82" x2="447.3" y2="552.82" stroke="#000" stroke-width="1"/>
<line x1="444.9" y1="544.13" x2="447.3" y2="544.13" stroke="#000" stroke-width="1"/>
<line x1="444.9" y1="535.44" x2="447.3" y2="535.44" stroke="#000" stroke-width="1"/>
<line x1="444.9" y1="526.75" x2="447.3" y2="526.75" stroke="#000" stroke-width="1"/>
<line x1="444.9" y1="518.06" x2="447.3" y2="518.06" stroke="#000" stroke-width="1"/>
<line x1="444.9" y1="509.37" x2="447.3" y2="509.37" stroke="#000" stroke-width="1"/>
<line x1="444.9" y1="500.68" x2="447.3" y2="500.68" stroke="#000" stroke-width="1"/>
<line x1="444.9" y1="491.99" x2="447.3" y2="491.99" stroke="#000" stroke-width="1"/>
<line x1="444.9" y1="483.3" x2="447.3" y2="483.3" stroke="#000" stroke-width="1"/>
<text x="463.5" y="575.6" font-size="12.4" stroke="#000" stroke-width="0.3" text-anchor="end" fill="#000" transform="rotate(-90 463.5 575.6)">B6 &gt; B6</text>
<text x="485.1" y="575.6" font-size="12.4" stroke="#000" stroke-width="0.3" text-anchor="end" fill="#000" transform="rotate(-90 485.1 575.6)">B6 &gt; BALB.B</text>
<text x="506.7" y="575.6" font-size="12.4" stroke="#000" stroke-width="0.3" text-anchor="end" fill="#000" transform="rotate(-90 506.7 575.6)">B6 &gt; BALB/c</text>
<circle cx="453" cy="485.6" r="1.9" fill="#000"/>
<circle cx="457" cy="485.6" r="1.9" fill="#000"/>
<circle cx="462" cy="485.6" r="1.9" fill="#000"/>
<circle cx="464.6" cy="485.6" r="1.9" fill="#000"/>
<circle cx="458.6" cy="487.2" r="1.9" fill="#000"/>
<line x1="451" y1="485.6" x2="466" y2="485.6" stroke="#000" stroke-width="1.3"/>
<path d="M474 483.18L476.2 487.36L471.8 487.36Z" fill="#000"/>
<path d="M478 483.18L480.2 487.36L475.8 487.36Z" fill="#000"/>
<path d="M483 483.18L485.2 487.36L480.8 487.36Z" fill="#000"/>
<path d="M486.4 483.18L488.6 487.36L484.2 487.36Z" fill="#000"/>
<path d="M480.2 485.58L482.4 489.76L478 489.76Z" fill="#000"/>
<line x1="472.6" y1="485.8" x2="488" y2="485.8" stroke="#000" stroke-width="1.3"/>
<path d="M494.9 482.8L497.1 485L494.9 487.2L492.7 485Z" fill="#000"/>
<path d="M501.5 486.8L503.7 489L501.5 491.2L499.3 489Z" fill="#000"/>
<path d="M501.5 511.4L503.7 513.6L501.5 515.8L499.3 513.6Z" fill="#000"/>
<line x1="494.4" y1="496" x2="509.6" y2="496" stroke="#000" stroke-width="1.3"/>
</svg></body></html>
